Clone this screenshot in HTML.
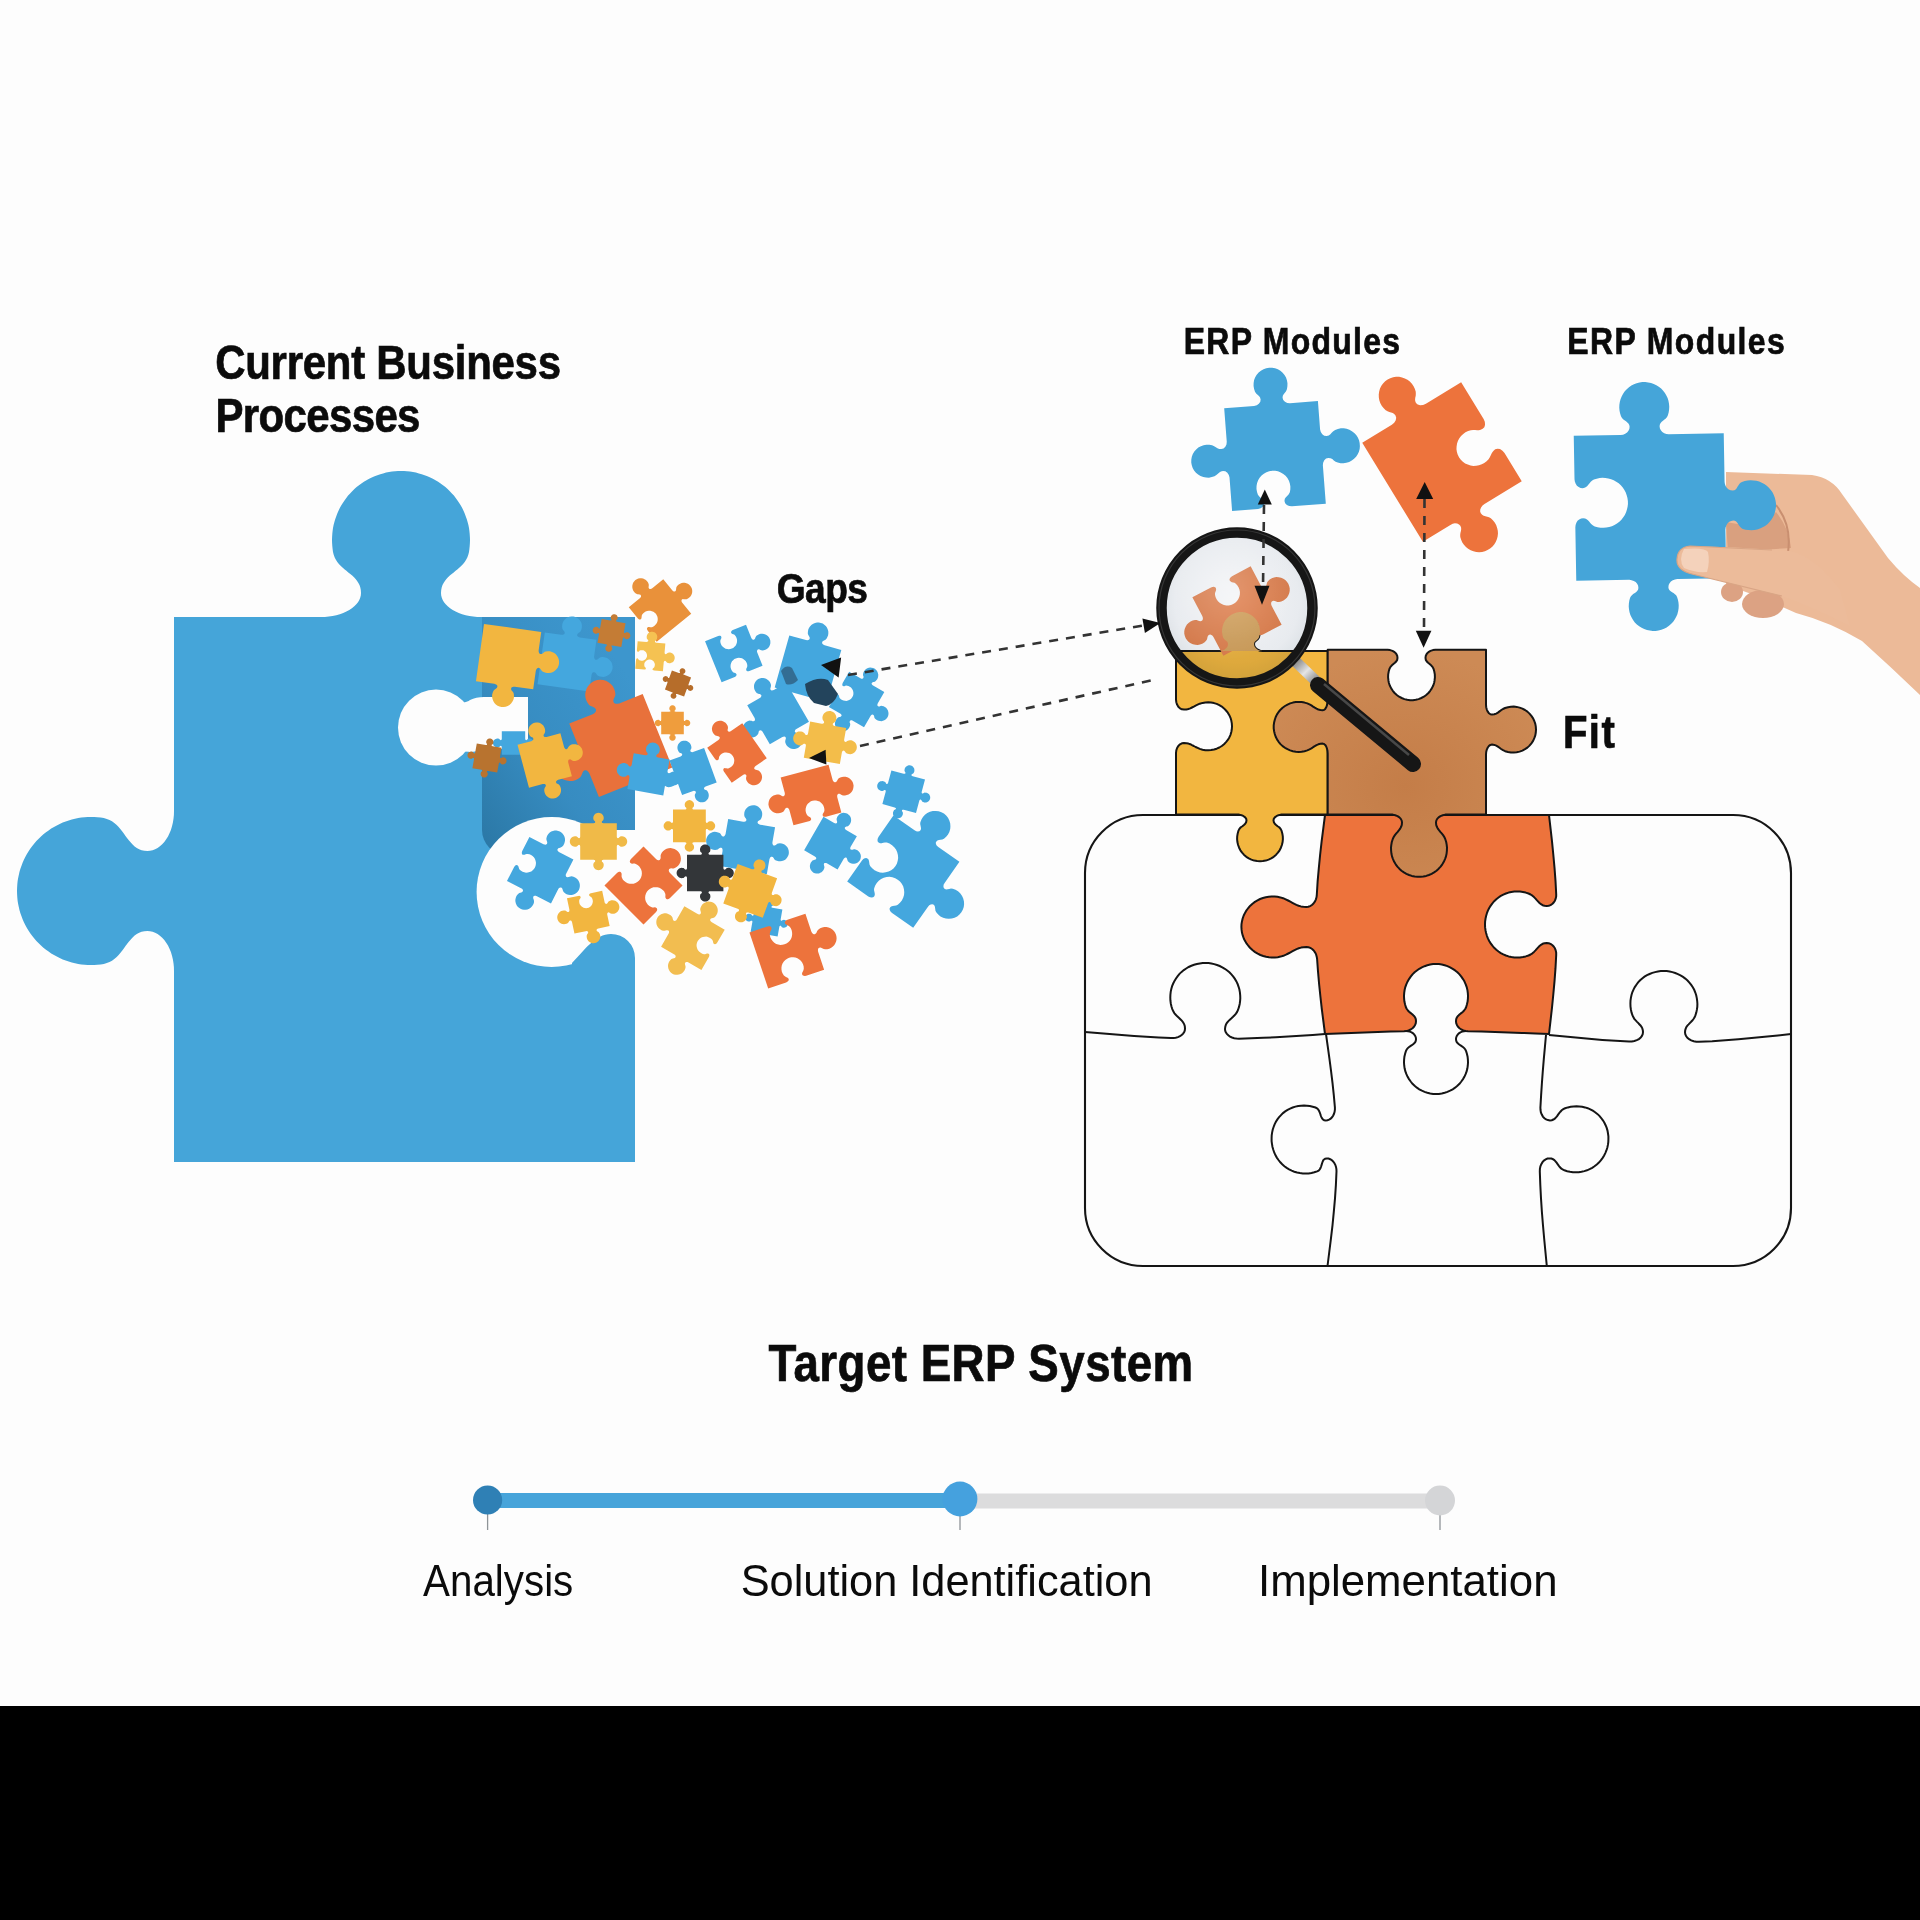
<!DOCTYPE html>
<html><head><meta charset="utf-8"><style>
html,body{margin:0;padding:0;background:#000;width:1920px;height:1920px;overflow:hidden;}
svg{display:block;}
</style></head><body>
<svg width="1920" height="1920" viewBox="0 0 1920 1920">
<defs>
<linearGradient id="dark" x1="0" y1="0.95" x2="0.8" y2="0.1">
  <stop offset="0" stop-color="#2b78a6"/><stop offset="0.45" stop-color="#378cc1"/><stop offset="1" stop-color="#3d96cd"/>
</linearGradient>
<radialGradient id="brown" cx="0.5" cy="0.6" r="0.6">
  <stop offset="0" stop-color="#c47d48"/><stop offset="1" stop-color="#cd8a55"/>
</radialGradient>
<radialGradient id="lens" cx="0.5" cy="0.45" r="0.55">
  <stop offset="0" stop-color="#f6f7f9"/><stop offset="0.75" stop-color="#eaedf1"/><stop offset="1" stop-color="#dce1e6"/>
</radialGradient>
<radialGradient id="lenshl" cx="0.42" cy="0.35" r="0.5">
  <stop offset="0" stop-color="#ffffff" stop-opacity="0.2"/><stop offset="1" stop-color="#ffffff" stop-opacity="0"/>
</radialGradient>
<clipPath id="lensclip"><circle cx="1237" cy="608" r="75.5"/></clipPath>
<linearGradient id="metal" x1="0" y1="0" x2="1" y2="1">
  <stop offset="0" stop-color="#777"/><stop offset="0.5" stop-color="#e5e5e5"/><stop offset="1" stop-color="#777"/>
</linearGradient>
</defs>
<rect x="0" y="0" width="1920" height="1706" fill="#fdfdfd"/>
<rect x="0" y="1706" width="1920" height="214" fill="#000"/>
<path d="M174 617L321 617L324.9 616.9L328.8 616.5L332.6 616L336.3 615.2L339.9 614.2L343.2 613L346.4 611.6L349.3 610L351.9 608.2L354.3 606.3L356.3 604.3L358 602.2L359.3 600L360.2 597.7L360.8 595.4L361 593L360.8 590.1L360.3 587.5L359.5 585.1L358.4 582.9L357.1 580.9L355.6 579L354 577.3L352.2 575.6L350.3 574L348.3 572.4L346.4 570.8L344.4 569.2L342.5 567.5L340.6 565.7L338.9 563.9L337.3 561.9L335.9 559.7L334.7 557.4L333.7 554.8L333 552L332.6 549L332.3 546L332.1 543L332 540L332.1 537L332.3 534L332.6 531L333 528L333.6 525.1L334.4 522.1L335.2 519.3L336.2 516.4L337.3 513.6L338.5 510.8L339.8 508.1L341.2 505.5L342.8 502.9L344.5 500.4L346.3 498L348.1 495.6L350.1 493.4L352.2 491.2L354.4 489.1L356.6 487.1L359 485.3L361.4 483.5L363.9 481.8L366.5 480.2L369.1 478.8L371.8 477.5L374.6 476.3L377.4 475.2L380.3 474.2L383.1 473.4L386.1 472.6L389 472L392 471.6L395 471.3L398 471.1L401 471L404 471.1L407 471.3L410 471.6L413 472L415.9 472.6L418.9 473.4L421.7 474.2L424.6 475.2L427.4 476.3L430.2 477.5L432.9 478.8L435.5 480.2L438.1 481.8L440.6 483.5L443 485.3L445.4 487.1L447.6 489.1L449.8 491.2L451.9 493.4L453.9 495.6L455.7 498L457.5 500.4L459.2 502.9L460.8 505.5L462.2 508.1L463.5 510.8L464.7 513.6L465.8 516.4L466.8 519.3L467.6 522.1L468.4 525.1L469 528L469.4 531L469.7 534L469.9 537L470 540L469.9 543L469.7 546L469.4 549L469 552L468.3 554.8L467.3 557.4L466.1 559.7L464.7 561.9L463.1 563.9L461.4 565.7L459.5 567.5L457.6 569.2L455.6 570.8L453.7 572.4L451.7 574L449.8 575.6L448 577.3L446.4 579L444.9 580.9L443.6 582.9L442.5 585.1L441.7 587.5L441.2 590.1L441 593L441.2 595.4L441.8 597.7L442.7 600L444 602.2L445.7 604.3L447.7 606.3L450.1 608.2L452.7 610L455.6 611.6L458.8 613L462.1 614.2L465.7 615.2L469.4 616L473.2 616.5L477.1 616.9L481 617L635 617L635 1162L174 1162L174 971L173.9 967.1L173.5 963.2L172.9 959.4L172 955.7L170.9 952.1L169.5 948.8L168 945.6L166.2 942.7L164.3 940.1L162.2 937.7L159.9 935.7L157.6 934L155.1 932.7L152.6 931.8L150 931.2L147.4 931L144.4 931.2L141.6 931.8L139.1 932.8L136.8 934.1L134.6 935.6L132.6 937.4L130.8 939.4L129 941.5L127.2 943.8L125.5 946.1L123.8 948.4L122.1 950.7L120.3 953L118.4 955.2L116.4 957.2L114.3 959.1L112 960.7L109.5 962.1L106.8 963.1L103.8 963.9L100.7 964.4L97.4 964.7L94.2 964.9L91 965L87.8 964.9L84.6 964.7L81.3 964.4L78.2 963.9L75 963.2L71.8 962.5L68.7 961.6L65.7 960.5L62.7 959.4L59.7 958.1L56.8 956.6L54 955.1L51.2 953.4L48.6 951.6L46 949.7L43.4 947.7L41 945.6L38.7 943.3L36.4 941L34.3 938.6L32.3 936L30.4 933.4L28.6 930.8L26.9 928L25.4 925.2L23.9 922.3L22.6 919.3L21.5 916.3L20.4 913.3L19.5 910.2L18.8 907L18.1 903.8L17.6 900.7L17.3 897.4L17.1 894.2L17 891L17.1 887.8L17.3 884.6L17.6 881.3L18.1 878.2L18.8 875L19.5 871.8L20.4 868.7L21.5 865.7L22.6 862.7L23.9 859.7L25.4 856.8L26.9 854L28.6 851.2L30.4 848.6L32.3 846L34.3 843.4L36.4 841L38.7 838.7L41 836.4L43.4 834.3L46 832.3L48.6 830.4L51.2 828.6L54 826.9L56.8 825.4L59.7 823.9L62.7 822.6L65.7 821.5L68.7 820.4L71.8 819.5L75 818.8L78.2 818.1L81.3 817.6L84.6 817.3L87.8 817.1L91 817L94.2 817.1L97.4 817.3L100.7 817.6L103.8 818.1L106.8 818.9L109.5 819.9L112 821.3L114.3 822.9L116.4 824.8L118.4 826.8L120.3 829L122.1 831.3L123.8 833.6L125.5 835.9L127.2 838.2L129 840.5L130.8 842.6L132.6 844.6L134.6 846.4L136.8 847.9L139.1 849.2L141.6 850.2L144.4 850.8L147.4 851L150 850.8L152.6 850.2L155.1 849.3L157.6 848L159.9 846.3L162.2 844.3L164.3 841.9L166.2 839.3L168 836.4L169.5 833.2L170.9 829.9L172 826.3L172.9 822.6L173.5 818.8L173.9 814.9L174 811L174 617Z" fill="#45a5d9"/>
<path d="M482 617H635V855H507A25 25 0 0 1 482 830Z" fill="url(#dark)"/>
<circle cx="436" cy="727.6" r="38" fill="#fdfdfd"/>
<path d="M440 704 Q466 704 470 700 Q476 697 484 697 L528 697 L528 749 L484 749 Q476 752 470 752 Q466 751 440 751Z" fill="#fdfdfd"/>
<circle cx="551.6" cy="892" r="75" fill="#fdfdfd"/>
<path d="M551 830H640V961H551Z" fill="#fdfdfd"/>
<path d="M572 963 C585 950 595 934 611 934 A24 24 0 0 1 635 958 L635 1000 L572 1000Z" fill="#45a5d9"/>
<path transform="translate(567.0 662.0) rotate(8)" d="M-26.1 -26.1L-9.4 -26.1L-8.2 -26.3L-7.2 -26.7L-6.5 -27.4L-6.3 -28.2L-6.5 -29.3L-7.1 -30.1L-7.9 -30.8L-8.7 -31.6L-9.3 -32.6L-9.8 -34.5L-9.9 -36.4L-9.7 -38.3L-9.1 -40.1L-8.1 -41.7L-6.9 -43.2L-5.4 -44.4L-3.7 -45.2L-1.9 -45.8L0 -46L1.9 -45.8L3.7 -45.2L5.4 -44.4L6.9 -43.2L8.1 -41.7L9.1 -40.1L9.7 -38.3L9.9 -36.4L9.8 -34.5L9.3 -32.6L8.7 -31.6L7.9 -30.8L7.1 -30.1L6.5 -29.3L6.3 -28.2L6.5 -27.4L7.2 -26.7L8.2 -26.3L9.4 -26.1L26.1 -26.1L26.1 -9.4L26.3 -8.2L26.7 -7.2L27.4 -6.5L28.2 -6.3L29.3 -6.5L30.1 -7.1L30.8 -7.9L31.6 -8.7L32.6 -9.3L34.5 -9.8L36.4 -9.9L38.3 -9.7L40.1 -9.1L41.7 -8.1L43.2 -6.9L44.4 -5.4L45.2 -3.7L45.8 -1.9L46 0L45.8 1.9L45.2 3.7L44.4 5.4L43.2 6.9L41.7 8.1L40.1 9.1L38.3 9.7L36.4 9.9L34.5 9.8L32.6 9.3L31.6 8.7L30.8 7.9L30.1 7.1L29.3 6.5L28.2 6.3L27.4 6.5L26.7 7.2L26.3 8.2L26.1 9.4L26.1 26.1L-26.1 26.1L-26.1 -26.1Z" fill="#44a7de"/>
<path transform="translate(508.6 656.6) rotate(8)" d="M-28.9 -28.9L28.9 -28.9L28.9 -10.4L29.1 -9.1L29.6 -8L30.3 -7.2L31.2 -6.9L32.4 -7.2L33.3 -7.9L34.1 -8.8L35 -9.7L36.1 -10.3L38.2 -10.8L40.3 -11L42.3 -10.7L44.3 -10L46.2 -9L47.8 -7.6L49.1 -6L50.1 -4.1L50.7 -2.1L50.9 0L50.7 2.1L50.1 4.1L49.1 6L47.8 7.6L46.2 9L44.3 10L42.3 10.7L40.3 11L38.2 10.8L36.1 10.3L35 9.7L34.1 8.8L33.3 7.9L32.4 7.2L31.2 6.9L30.3 7.2L29.6 8L29.1 9.1L28.9 10.4L28.9 28.9L10.4 28.9L9.1 29.1L8 29.6L7.2 30.3L6.9 31.2L7.2 32.4L7.9 33.3L8.8 34.1L9.7 35L10.3 36.1L10.8 38.2L11 40.3L10.7 42.3L10 44.3L9 46.2L7.6 47.8L6 49.1L4.1 50.1L2.1 50.7L0 50.9L-2.1 50.7L-4.1 50.1L-6 49.1L-7.6 47.8L-9 46.2L-10 44.3L-10.7 42.3L-11 40.3L-10.8 38.2L-10.3 36.1L-9.7 35L-8.8 34.1L-7.9 33.3L-7.2 32.4L-6.9 31.2L-7.2 30.3L-8 29.6L-9.1 29.1L-10.4 28.9L-28.9 28.9L-28.9 -28.9Z" fill="#f2b640"/>
<path transform="translate(611.5 633.0) rotate(10)" d="M-12.1 -12.1L-3.3 -12.1L-2.9 -12.2L-2.5 -12.3L-2.3 -12.6L-2.2 -12.9L-2.3 -13.2L-2.5 -13.5L-2.8 -13.8L-3 -14L-3.2 -14.4L-3.4 -15L-3.5 -15.7L-3.4 -16.4L-3.2 -17L-2.8 -17.6L-2.4 -18.1L-1.9 -18.5L-1.3 -18.8L-0.7 -19L0 -19L0.7 -19L1.3 -18.8L1.9 -18.5L2.4 -18.1L2.8 -17.6L3.2 -17L3.4 -16.4L3.5 -15.7L3.4 -15L3.2 -14.4L3 -14L2.8 -13.8L2.5 -13.5L2.3 -13.2L2.2 -12.9L2.3 -12.6L2.5 -12.3L2.9 -12.2L3.3 -12.1L12.1 -12.1L12.1 -3.3L12.2 -2.9L12.3 -2.5L12.6 -2.3L12.9 -2.2L13.2 -2.3L13.5 -2.5L13.8 -2.8L14 -3L14.4 -3.2L15 -3.4L15.7 -3.5L16.4 -3.4L17 -3.2L17.6 -2.8L18.1 -2.4L18.5 -1.9L18.8 -1.3L19 -0.7L19 0L19 0.7L18.8 1.3L18.5 1.9L18.1 2.4L17.6 2.8L17 3.2L16.4 3.4L15.7 3.5L15 3.4L14.4 3.2L14 3L13.8 2.8L13.5 2.5L13.2 2.3L12.9 2.2L12.6 2.3L12.3 2.5L12.2 2.9L12.1 3.3L12.1 12.1L3.3 12.1L2.9 12.2L2.5 12.3L2.3 12.6L2.2 12.9L2.3 13.2L2.5 13.5L2.8 13.8L3 14L3.2 14.4L3.4 15L3.5 15.7L3.4 16.4L3.2 17L2.8 17.6L2.4 18.1L1.9 18.5L1.3 18.8L0.7 19L0 19L-0.7 19L-1.3 18.8L-1.9 18.5L-2.4 18.1L-2.8 17.6L-3.2 17L-3.4 16.4L-3.5 15.7L-3.4 15L-3.2 14.4L-3 14L-2.8 13.8L-2.5 13.5L-2.3 13.2L-2.2 12.9L-2.3 12.6L-2.5 12.3L-2.9 12.2L-3.3 12.1L-12.1 12.1L-12.1 3.3L-12.2 2.9L-12.3 2.5L-12.6 2.3L-12.9 2.2L-13.2 2.3L-13.5 2.5L-13.8 2.8L-14 3L-14.4 3.2L-15 3.4L-15.7 3.5L-16.4 3.4L-17 3.2L-17.6 2.8L-18.1 2.4L-18.5 1.9L-18.8 1.3L-19 0.7L-19 0L-19 -0.7L-18.8 -1.3L-18.5 -1.9L-18.1 -2.4L-17.6 -2.8L-17 -3.2L-16.4 -3.4L-15.7 -3.5L-15 -3.4L-14.4 -3.2L-14 -3L-13.8 -2.8L-13.5 -2.5L-13.2 -2.3L-12.9 -2.2L-12.6 -2.3L-12.3 -2.5L-12.2 -2.9L-12.1 -3.3L-12.1 -12.1Z" fill="#c47c35"/>
<path transform="translate(660.0 610.5) rotate(-39)" d="M-22.2 -22.2L-8 -22.2L-7 -22.3L-6.1 -22.7L-5.5 -23.3L-5.3 -24L-5.5 -24.9L-6.1 -25.6L-6.7 -26.2L-7.4 -26.9L-7.9 -27.8L-8.3 -29.3L-8.4 -30.9L-8.2 -32.5L-7.7 -34.1L-6.9 -35.5L-5.9 -36.7L-4.6 -37.7L-3.2 -38.5L-1.6 -38.9L0 -39.1L1.6 -38.9L3.2 -38.5L4.6 -37.7L5.9 -36.7L6.9 -35.5L7.7 -34.1L8.2 -32.5L8.4 -30.9L8.3 -29.3L7.9 -27.8L7.4 -26.9L6.7 -26.2L6.1 -25.6L5.5 -24.9L5.3 -24L5.5 -23.3L6.1 -22.7L7 -22.3L8 -22.2L22.2 -22.2L22.2 -8L22.3 -7L22.7 -6.1L23.3 -5.5L24 -5.3L24.9 -5.5L25.6 -6.1L26.2 -6.7L26.9 -7.4L27.8 -7.9L29.3 -8.3L30.9 -8.4L32.5 -8.2L34.1 -7.7L35.5 -6.9L36.7 -5.9L37.7 -4.6L38.5 -3.2L38.9 -1.6L39.1 0L38.9 1.6L38.5 3.2L37.7 4.6L36.7 5.9L35.5 6.9L34.1 7.7L32.5 8.2L30.9 8.4L29.3 8.3L27.8 7.9L26.9 7.4L26.2 6.7L25.6 6.1L24.9 5.5L24 5.3L23.3 5.5L22.7 6.1L22.3 7L22.2 8L22.2 22.2L-22.2 22.2L-22.2 8L-22.1 7L-21.7 6.1L-21.1 5.5L-20.4 5.3L-19.5 5.5L-18.8 6.1L-18.2 6.7L-17.5 7.4L-16.7 7.9L-15.1 8.3L-13.5 8.4L-11.9 8.2L-10.3 7.7L-8.9 6.9L-7.7 5.9L-6.7 4.6L-5.9 3.2L-5.5 1.6L-5.3 0L-5.5 -1.6L-5.9 -3.2L-6.7 -4.6L-7.7 -5.9L-8.9 -6.9L-10.3 -7.7L-11.9 -8.2L-13.5 -8.4L-15.1 -8.3L-16.7 -7.9L-17.5 -7.4L-18.2 -6.7L-18.8 -6.1L-19.5 -5.5L-20.4 -5.3L-21.1 -5.5L-21.7 -6.1L-22.1 -7L-22.2 -8L-22.2 -22.2Z" fill="#e9913a"/>
<path transform="translate(650.3 656.2) rotate(5)" d="M-13.9 -13.9L-5 -13.9L-4.4 -14L-3.8 -14.3L-3.5 -14.6L-3.3 -15L-3.5 -15.6L-3.8 -16.1L-4.2 -16.4L-4.7 -16.9L-5 -17.4L-5.2 -18.4L-5.3 -19.4L-5.2 -20.4L-4.8 -21.4L-4.3 -22.3L-3.7 -23L-2.9 -23.7L-2 -24.1L-1 -24.4L0 -24.5L1 -24.4L2 -24.1L2.9 -23.7L3.7 -23L4.3 -22.3L4.8 -21.4L5.2 -20.4L5.3 -19.4L5.2 -18.4L5 -17.4L4.7 -16.9L4.2 -16.4L3.8 -16.1L3.5 -15.6L3.3 -15L3.5 -14.6L3.8 -14.3L4.4 -14L5 -13.9L13.9 -13.9L13.9 -5L14 -4.4L14.3 -3.8L14.6 -3.5L15 -3.3L15.6 -3.5L16.1 -3.8L16.4 -4.2L16.9 -4.7L17.4 -5L18.4 -5.2L19.4 -5.3L20.4 -5.2L21.4 -4.8L22.3 -4.3L23 -3.7L23.7 -2.9L24.1 -2L24.4 -1L24.5 0L24.4 1L24.1 2L23.7 2.9L23 3.7L22.3 4.3L21.4 4.8L20.4 5.2L19.4 5.3L18.4 5.2L17.4 5L16.9 4.7L16.4 4.2L16.1 3.8L15.6 3.5L15 3.3L14.6 3.5L14.3 3.8L14 4.4L13.9 5L13.9 13.9L5 13.9L4.4 13.8L3.8 13.6L3.5 13.2L3.3 12.8L3.5 12.2L3.8 11.8L4.2 11.4L4.7 11L5 10.4L5.2 9.5L5.3 8.4L5.2 7.4L4.8 6.5L4.3 5.6L3.7 4.8L2.9 4.2L2 3.7L1 3.4L0 3.3L-1 3.4L-2 3.7L-2.9 4.2L-3.7 4.8L-4.3 5.6L-4.8 6.5L-5.2 7.4L-5.3 8.4L-5.2 9.5L-5 10.4L-4.7 11L-4.2 11.4L-3.8 11.8L-3.5 12.2L-3.3 12.8L-3.5 13.2L-3.8 13.6L-4.4 13.8L-5 13.9L-13.9 13.9L-13.9 5L-13.8 4.4L-13.6 3.8L-13.2 3.5L-12.8 3.3L-12.2 3.5L-11.8 3.8L-11.4 4.2L-11 4.7L-10.4 5L-9.5 5.2L-8.4 5.3L-7.4 5.2L-6.5 4.8L-5.6 4.3L-4.8 3.7L-4.2 2.9L-3.7 2L-3.4 1L-3.3 0L-3.4 -1L-3.7 -2L-4.2 -2.9L-4.8 -3.7L-5.6 -4.3L-6.5 -4.8L-7.4 -5.2L-8.4 -5.3L-9.5 -5.2L-10.4 -5L-11 -4.7L-11.4 -4.2L-11.8 -3.8L-12.2 -3.5L-12.8 -3.3L-13.2 -3.5L-13.6 -3.8L-13.8 -4.4L-13.9 -5L-13.9 -13.9Z" fill="#f5c252"/>
<path transform="translate(678.0 683.5) rotate(20)" d="M-10.2 -10.2L-2.8 -10.2L-2.4 -10.3L-2.1 -10.4L-1.9 -10.6L-1.8 -10.8L-1.9 -11.1L-2.1 -11.4L-2.3 -11.6L-2.6 -11.8L-2.7 -12.1L-2.9 -12.7L-2.9 -13.2L-2.8 -13.8L-2.7 -14.3L-2.4 -14.8L-2 -15.2L-1.6 -15.6L-1.1 -15.8L-0.6 -16L0 -16L0.6 -16L1.1 -15.8L1.6 -15.6L2 -15.2L2.4 -14.8L2.7 -14.3L2.8 -13.8L2.9 -13.2L2.9 -12.7L2.7 -12.1L2.6 -11.8L2.3 -11.6L2.1 -11.4L1.9 -11.1L1.8 -10.8L1.9 -10.6L2.1 -10.4L2.4 -10.3L2.8 -10.2L10.2 -10.2L10.2 -2.8L10.3 -2.4L10.4 -2.1L10.6 -1.9L10.8 -1.8L11.1 -1.9L11.4 -2.1L11.6 -2.3L11.8 -2.6L12.1 -2.7L12.7 -2.9L13.2 -2.9L13.8 -2.8L14.3 -2.7L14.8 -2.4L15.2 -2L15.6 -1.6L15.8 -1.1L16 -0.6L16 0L16 0.6L15.8 1.1L15.6 1.6L15.2 2L14.8 2.4L14.3 2.7L13.8 2.8L13.2 2.9L12.7 2.9L12.1 2.7L11.8 2.6L11.6 2.3L11.4 2.1L11.1 1.9L10.8 1.8L10.6 1.9L10.4 2.1L10.3 2.4L10.2 2.8L10.2 10.2L2.8 10.2L2.4 10.3L2.1 10.4L1.9 10.6L1.8 10.8L1.9 11.1L2.1 11.4L2.3 11.6L2.6 11.8L2.7 12.1L2.9 12.7L2.9 13.2L2.8 13.8L2.7 14.3L2.4 14.8L2 15.2L1.6 15.6L1.1 15.8L0.6 16L0 16L-0.6 16L-1.1 15.8L-1.6 15.6L-2 15.2L-2.4 14.8L-2.7 14.3L-2.8 13.8L-2.9 13.2L-2.9 12.7L-2.7 12.1L-2.6 11.8L-2.3 11.6L-2.1 11.4L-1.9 11.1L-1.8 10.8L-1.9 10.6L-2.1 10.4L-2.4 10.3L-2.8 10.2L-10.2 10.2L-10.2 2.8L-10.3 2.4L-10.4 2.1L-10.6 1.9L-10.8 1.8L-11.1 1.9L-11.4 2.1L-11.6 2.3L-11.8 2.6L-12.1 2.7L-12.7 2.9L-13.2 2.9L-13.8 2.8L-14.3 2.7L-14.8 2.4L-15.2 2L-15.6 1.6L-15.8 1.1L-16 0.6L-16 0L-16 -0.6L-15.8 -1.1L-15.6 -1.6L-15.2 -2L-14.8 -2.4L-14.3 -2.7L-13.8 -2.8L-13.2 -2.9L-12.7 -2.9L-12.1 -2.7L-11.8 -2.6L-11.6 -2.3L-11.4 -2.1L-11.1 -1.9L-10.8 -1.8L-10.6 -1.9L-10.4 -2.1L-10.3 -2.4L-10.2 -2.8L-10.2 -10.2Z" fill="#b66d2a"/>
<path transform="translate(513.5 743.0) rotate(0)" d="M-11.7 -11.7L11.7 -11.7L11.7 -4.2L11.8 -3.7L12 -3.2L12.3 -2.9L12.6 -2.8L13.1 -2.9L13.5 -3.2L13.8 -3.5L14.1 -3.9L14.6 -4.2L15.4 -4.4L16.3 -4.4L17.1 -4.3L17.9 -4.1L18.7 -3.6L19.3 -3.1L19.9 -2.4L20.2 -1.7L20.5 -0.8L20.6 0L20.5 0.8L20.2 1.7L19.9 2.4L19.3 3.1L18.7 3.6L17.9 4.1L17.1 4.3L16.3 4.4L15.4 4.4L14.6 4.2L14.1 3.9L13.8 3.5L13.5 3.2L13.1 2.9L12.6 2.8L12.3 2.9L12 3.2L11.8 3.7L11.7 4.2L11.7 11.7L-11.7 11.7L-11.7 4.2L-11.8 3.7L-12 3.2L-12.3 2.9L-12.6 2.8L-13.1 2.9L-13.5 3.2L-13.8 3.5L-14.1 3.9L-14.6 4.2L-15.4 4.4L-16.3 4.4L-17.1 4.3L-17.9 4.1L-18.7 3.6L-19.3 3.1L-19.9 2.4L-20.2 1.7L-20.5 0.8L-20.6 0L-20.5 -0.8L-20.2 -1.7L-19.9 -2.4L-19.3 -3.1L-18.7 -3.6L-17.9 -4.1L-17.1 -4.3L-16.3 -4.4L-15.4 -4.4L-14.6 -4.2L-14.1 -3.9L-13.8 -3.5L-13.5 -3.2L-13.1 -2.9L-12.6 -2.8L-12.3 -2.9L-12 -3.2L-11.8 -3.7L-11.7 -4.2L-11.7 -11.7Z" fill="#44a7de"/>
<path transform="translate(487.0 758.0) rotate(10)" d="M-12.6 -12.6L-3.4 -12.6L-3 -12.7L-2.6 -12.8L-2.4 -13.1L-2.3 -13.4L-2.4 -13.8L-2.6 -14.1L-2.9 -14.3L-3.2 -14.6L-3.4 -15L-3.6 -15.6L-3.6 -16.3L-3.5 -17L-3.3 -17.7L-2.9 -18.3L-2.5 -18.8L-2 -19.2L-1.3 -19.5L-0.7 -19.7L0 -19.8L0.7 -19.7L1.3 -19.5L2 -19.2L2.5 -18.8L2.9 -18.3L3.3 -17.7L3.5 -17L3.6 -16.3L3.6 -15.6L3.4 -15L3.2 -14.6L2.9 -14.3L2.6 -14.1L2.4 -13.8L2.3 -13.4L2.4 -13.1L2.6 -12.8L3 -12.7L3.4 -12.6L12.6 -12.6L12.6 -3.4L12.7 -3L12.8 -2.6L13.1 -2.4L13.4 -2.3L13.8 -2.4L14.1 -2.6L14.3 -2.9L14.6 -3.2L15 -3.4L15.6 -3.6L16.3 -3.6L17 -3.5L17.7 -3.3L18.3 -2.9L18.8 -2.5L19.2 -2L19.5 -1.3L19.7 -0.7L19.8 0L19.7 0.7L19.5 1.3L19.2 2L18.8 2.5L18.3 2.9L17.7 3.3L17 3.5L16.3 3.6L15.6 3.6L15 3.4L14.6 3.2L14.3 2.9L14.1 2.6L13.8 2.4L13.4 2.3L13.1 2.4L12.8 2.6L12.7 3L12.6 3.4L12.6 12.6L3.4 12.6L3 12.7L2.6 12.8L2.4 13.1L2.3 13.4L2.4 13.8L2.6 14.1L2.9 14.3L3.2 14.6L3.4 15L3.6 15.6L3.6 16.3L3.5 17L3.3 17.7L2.9 18.3L2.5 18.8L2 19.2L1.3 19.5L0.7 19.7L0 19.8L-0.7 19.7L-1.3 19.5L-2 19.2L-2.5 18.8L-2.9 18.3L-3.3 17.7L-3.5 17L-3.6 16.3L-3.6 15.6L-3.4 15L-3.2 14.6L-2.9 14.3L-2.6 14.1L-2.4 13.8L-2.3 13.4L-2.4 13.1L-2.6 12.8L-3 12.7L-3.4 12.6L-12.6 12.6L-12.6 3.4L-12.7 3L-12.8 2.6L-13.1 2.4L-13.4 2.3L-13.8 2.4L-14.1 2.6L-14.3 2.9L-14.6 3.2L-15 3.4L-15.6 3.6L-16.3 3.6L-17 3.5L-17.7 3.3L-18.3 2.9L-18.8 2.5L-19.2 2L-19.5 1.3L-19.7 0.7L-19.8 0L-19.7 -0.7L-19.5 -1.3L-19.2 -2L-18.8 -2.5L-18.3 -2.9L-17.7 -3.3L-17 -3.5L-16.3 -3.6L-15.6 -3.6L-15 -3.4L-14.6 -3.2L-14.3 -2.9L-14.1 -2.6L-13.8 -2.4L-13.4 -2.3L-13.1 -2.4L-12.8 -2.6L-12.7 -3L-12.6 -3.4L-12.6 -12.6Z" fill="#b8732f"/>
<path transform="translate(620.8 745.5) rotate(-22)" d="M-39.6 -39.6L-14.3 -39.6L-12.4 -39.9L-10.9 -40.6L-9.9 -41.6L-9.5 -42.8L-9.9 -44.5L-10.8 -45.7L-12 -46.8L-13.2 -48L-14.2 -49.5L-14.9 -52.3L-15.1 -55.2L-14.7 -58.1L-13.8 -60.8L-12.3 -63.3L-10.5 -65.5L-8.2 -67.3L-5.6 -68.7L-2.9 -69.5L0 -69.8L2.9 -69.5L5.6 -68.7L8.2 -67.3L10.5 -65.5L12.3 -63.3L13.8 -60.8L14.7 -58.1L15.1 -55.2L14.9 -52.3L14.2 -49.5L13.2 -48L12 -46.8L10.8 -45.7L9.9 -44.5L9.5 -42.8L9.9 -41.6L10.9 -40.6L12.4 -39.9L14.3 -39.6L39.6 -39.6L39.6 39.6L-39.6 39.6L-39.6 14.3L-39.9 12.4L-40.6 10.9L-41.6 9.9L-42.8 9.5L-44.5 9.9L-45.7 10.8L-46.8 12L-48 13.2L-49.5 14.2L-52.3 14.9L-55.2 15.1L-58.1 14.7L-60.8 13.8L-63.3 12.3L-65.5 10.5L-67.3 8.2L-68.7 5.6L-69.5 2.9L-69.8 0L-69.5 -2.9L-68.7 -5.6L-67.3 -8.2L-65.5 -10.5L-63.3 -12.3L-60.8 -13.8L-58.1 -14.7L-55.2 -15.1L-52.3 -14.9L-49.5 -14.2L-48 -13.2L-46.8 -12L-45.7 -10.8L-44.5 -9.9L-42.8 -9.5L-41.6 -9.9L-40.6 -10.9L-39.9 -12.4L-39.6 -14.3L-39.6 -39.6Z" fill="#e8713b"/>
<path transform="translate(544.7 760.5) rotate(-15)" d="M-22.2 -22.2L-8 -22.2L-7 -22.4L-6.1 -22.8L-5.5 -23.3L-5.3 -24L-5.5 -24.9L-6.1 -25.6L-6.8 -26.2L-7.4 -26.9L-7.9 -27.8L-8.3 -29.4L-8.4 -31L-8.2 -32.6L-7.7 -34.1L-6.9 -35.5L-5.9 -36.8L-4.6 -37.8L-3.2 -38.5L-1.6 -39L0 -39.1L1.6 -39L3.2 -38.5L4.6 -37.8L5.9 -36.8L6.9 -35.5L7.7 -34.1L8.2 -32.6L8.4 -31L8.3 -29.4L7.9 -27.8L7.4 -26.9L6.8 -26.2L6.1 -25.6L5.5 -24.9L5.3 -24L5.5 -23.3L6.1 -22.8L7 -22.4L8 -22.2L22.2 -22.2L22.2 -8L22.4 -7L22.8 -6.1L23.3 -5.5L24 -5.3L24.9 -5.5L25.6 -6.1L26.2 -6.8L26.9 -7.4L27.8 -7.9L29.4 -8.3L31 -8.4L32.6 -8.2L34.1 -7.7L35.5 -6.9L36.8 -5.9L37.8 -4.6L38.5 -3.2L39 -1.6L39.1 0L39 1.6L38.5 3.2L37.8 4.6L36.8 5.9L35.5 6.9L34.1 7.7L32.6 8.2L31 8.4L29.4 8.3L27.8 7.9L26.9 7.4L26.2 6.8L25.6 6.1L24.9 5.5L24 5.3L23.3 5.5L22.8 6.1L22.4 7L22.2 8L22.2 22.2L8 22.2L7 22.4L6.1 22.8L5.5 23.3L5.3 24L5.5 24.9L6.1 25.6L6.8 26.2L7.4 26.9L7.9 27.8L8.3 29.4L8.4 31L8.2 32.6L7.7 34.1L6.9 35.5L5.9 36.8L4.6 37.8L3.2 38.5L1.6 39L0 39.1L-1.6 39L-3.2 38.5L-4.6 37.8L-5.9 36.8L-6.9 35.5L-7.7 34.1L-8.2 32.6L-8.4 31L-8.3 29.4L-7.9 27.8L-7.4 26.9L-6.8 26.2L-6.1 25.6L-5.5 24.9L-5.3 24L-5.5 23.3L-6.1 22.8L-7 22.4L-8 22.2L-22.2 22.2L-22.2 -22.2Z" fill="#f2b640"/>
<path transform="translate(672.5 723.0) rotate(0)" d="M-11.3 -11.3L-3.1 -11.3L-2.7 -11.4L-2.3 -11.5L-2.1 -11.7L-2 -12L-2.1 -12.3L-2.3 -12.6L-2.6 -12.8L-2.8 -13.1L-3 -13.4L-3.2 -14L-3.2 -14.6L-3.1 -15.3L-2.9 -15.8L-2.6 -16.4L-2.2 -16.8L-1.8 -17.2L-1.2 -17.5L-0.6 -17.7L0 -17.8L0.6 -17.7L1.2 -17.5L1.8 -17.2L2.2 -16.8L2.6 -16.4L2.9 -15.8L3.1 -15.3L3.2 -14.6L3.2 -14L3 -13.4L2.8 -13.1L2.6 -12.8L2.3 -12.6L2.1 -12.3L2 -12L2.1 -11.7L2.3 -11.5L2.7 -11.4L3.1 -11.3L11.3 -11.3L11.3 -3.1L11.4 -2.7L11.5 -2.3L11.7 -2.1L12 -2L12.3 -2.1L12.6 -2.3L12.8 -2.6L13.1 -2.8L13.4 -3L14 -3.2L14.6 -3.2L15.3 -3.1L15.8 -2.9L16.4 -2.6L16.8 -2.2L17.2 -1.8L17.5 -1.2L17.7 -0.6L17.8 0L17.7 0.6L17.5 1.2L17.2 1.8L16.8 2.2L16.4 2.6L15.8 2.9L15.3 3.1L14.6 3.2L14 3.2L13.4 3L13.1 2.8L12.8 2.6L12.6 2.3L12.3 2.1L12 2L11.7 2.1L11.5 2.3L11.4 2.7L11.3 3.1L11.3 11.3L3.1 11.3L2.7 11.4L2.3 11.5L2.1 11.7L2 12L2.1 12.3L2.3 12.6L2.6 12.8L2.8 13.1L3 13.4L3.2 14L3.2 14.6L3.1 15.3L2.9 15.8L2.6 16.4L2.2 16.8L1.8 17.2L1.2 17.5L0.6 17.7L0 17.8L-0.6 17.7L-1.2 17.5L-1.8 17.2L-2.2 16.8L-2.6 16.4L-2.9 15.8L-3.1 15.3L-3.2 14.6L-3.2 14L-3 13.4L-2.8 13.1L-2.6 12.8L-2.3 12.6L-2.1 12.3L-2 12L-2.1 11.7L-2.3 11.5L-2.7 11.4L-3.1 11.3L-11.3 11.3L-11.3 3.1L-11.4 2.7L-11.5 2.3L-11.7 2.1L-12 2L-12.3 2.1L-12.6 2.3L-12.8 2.6L-13.1 2.8L-13.4 3L-14 3.2L-14.6 3.2L-15.3 3.1L-15.8 2.9L-16.4 2.6L-16.8 2.2L-17.2 1.8L-17.5 1.2L-17.7 0.6L-17.8 0L-17.7 -0.6L-17.5 -1.2L-17.2 -1.8L-16.8 -2.2L-16.4 -2.6L-15.8 -2.9L-15.3 -3.1L-14.6 -3.2L-14 -3.2L-13.4 -3L-13.1 -2.8L-12.8 -2.6L-12.6 -2.3L-12.3 -2.1L-12 -2L-11.7 -2.1L-11.5 -2.3L-11.4 -2.7L-11.3 -3.1L-11.3 -11.3Z" fill="#ef9d3d"/>
<path transform="translate(648.5 774.3) rotate(10)" d="M-18.2 -18.2L-6.6 -18.2L-5.7 -18.3L-5 -18.7L-4.5 -19.1L-4.4 -19.7L-4.5 -20.5L-5 -21L-5.5 -21.5L-6.1 -22.1L-6.5 -22.8L-6.8 -24.1L-6.9 -25.4L-6.8 -26.7L-6.3 -28L-5.7 -29.1L-4.8 -30.1L-3.8 -31L-2.6 -31.6L-1.3 -32L0 -32.1L1.3 -32L2.6 -31.6L3.8 -31L4.8 -30.1L5.7 -29.1L6.3 -28L6.8 -26.7L6.9 -25.4L6.8 -24.1L6.5 -22.8L6.1 -22.1L5.5 -21.5L5 -21L4.5 -20.5L4.4 -19.7L4.5 -19.1L5 -18.7L5.7 -18.3L6.6 -18.2L18.2 -18.2L18.2 -6.6L18.3 -5.7L18.7 -5L19.1 -4.5L19.7 -4.4L20.5 -4.5L21 -5L21.5 -5.5L22.1 -6.1L22.8 -6.5L24.1 -6.8L25.4 -6.9L26.7 -6.8L28 -6.3L29.1 -5.7L30.1 -4.8L31 -3.8L31.6 -2.6L32 -1.3L32.1 0L32 1.3L31.6 2.6L31 3.8L30.1 4.8L29.1 5.7L28 6.3L26.7 6.8L25.4 6.9L24.1 6.8L22.8 6.5L22.1 6.1L21.5 5.5L21 5L20.5 4.5L19.7 4.4L19.1 4.5L18.7 5L18.3 5.7L18.2 6.6L18.2 18.2L-18.2 18.2L-18.2 6.6L-18.3 5.7L-18.7 5L-19.1 4.5L-19.7 4.4L-20.5 4.5L-21 5L-21.5 5.5L-22.1 6.1L-22.8 6.5L-24.1 6.8L-25.4 6.9L-26.7 6.8L-28 6.3L-29.1 5.7L-30.1 4.8L-31 3.8L-31.6 2.6L-32 1.3L-32.1 0L-32 -1.3L-31.6 -2.6L-31 -3.8L-30.1 -4.8L-29.1 -5.7L-28 -6.3L-26.7 -6.8L-25.4 -6.9L-24.1 -6.8L-22.8 -6.5L-22.1 -6.1L-21.5 -5.5L-21 -5L-20.5 -4.5L-19.7 -4.4L-19.1 -4.5L-18.7 -5L-18.3 -5.7L-18.2 -6.6L-18.2 -18.2Z" fill="#44a7de"/>
<path transform="translate(693.1 771.5) rotate(-20)" d="M-18.4 -18.4L-6.6 -18.4L-5.8 -18.5L-5.1 -18.8L-4.6 -19.3L-4.4 -19.9L-4.6 -20.7L-5 -21.2L-5.6 -21.7L-6.2 -22.3L-6.6 -23L-6.9 -24.3L-7 -25.7L-6.8 -27L-6.4 -28.3L-5.7 -29.4L-4.9 -30.5L-3.8 -31.3L-2.6 -31.9L-1.3 -32.3L0 -32.4L1.3 -32.3L2.6 -31.9L3.8 -31.3L4.9 -30.5L5.7 -29.4L6.4 -28.3L6.8 -27L7 -25.7L6.9 -24.3L6.6 -23L6.2 -22.3L5.6 -21.7L5 -21.2L4.6 -20.7L4.4 -19.9L4.6 -19.3L5.1 -18.8L5.8 -18.5L6.6 -18.4L18.4 -18.4L18.4 18.4L6.6 18.4L5.8 18.5L5.1 18.8L4.6 19.3L4.4 19.9L4.6 20.7L5 21.2L5.6 21.7L6.2 22.3L6.6 23L6.9 24.3L7 25.7L6.8 27L6.4 28.3L5.7 29.4L4.9 30.5L3.8 31.3L2.6 31.9L1.3 32.3L0 32.4L-1.3 32.3L-2.6 31.9L-3.8 31.3L-4.9 30.5L-5.7 29.4L-6.4 28.3L-6.8 27L-7 25.7L-6.9 24.3L-6.6 23L-6.2 22.3L-5.6 21.7L-5 21.2L-4.6 20.7L-4.4 19.9L-4.6 19.3L-5.1 18.8L-5.8 18.5L-6.6 18.4L-18.4 18.4L-18.4 6.6L-18.5 5.8L-18.8 5.1L-19.3 4.6L-19.9 4.4L-20.7 4.6L-21.2 5L-21.7 5.6L-22.3 6.2L-23 6.6L-24.3 6.9L-25.7 7L-27 6.8L-28.3 6.4L-29.4 5.7L-30.5 4.9L-31.3 3.8L-31.9 2.6L-32.3 1.3L-32.4 0L-32.3 -1.3L-31.9 -2.6L-31.3 -3.8L-30.5 -4.9L-29.4 -5.7L-28.3 -6.4L-27 -6.8L-25.7 -7L-24.3 -6.9L-23 -6.6L-22.3 -6.2L-21.7 -5.6L-21.2 -5L-20.7 -4.6L-19.9 -4.4L-19.3 -4.6L-18.8 -5.1L-18.5 -5.8L-18.4 -6.6L-18.4 -18.4Z" fill="#44a7de"/>
<path transform="translate(733.8 653.5) rotate(-22)" d="M-22.1 -22.1L-7.9 -22.1L-6.9 -21.9L-6.1 -21.5L-5.5 -21L-5.3 -20.3L-5.5 -19.4L-6 -18.7L-6.7 -18.1L-7.4 -17.4L-7.9 -16.5L-8.3 -15L-8.4 -13.4L-8.2 -11.8L-7.7 -10.3L-6.9 -8.9L-5.8 -7.6L-4.6 -6.6L-3.1 -5.9L-1.6 -5.4L0 -5.3L1.6 -5.4L3.1 -5.9L4.6 -6.6L5.8 -7.6L6.9 -8.9L7.7 -10.3L8.2 -11.8L8.4 -13.4L8.3 -15L7.9 -16.5L7.4 -17.4L6.7 -18.1L6 -18.7L5.5 -19.4L5.3 -20.3L5.5 -21L6.1 -21.5L6.9 -21.9L7.9 -22.1L22.1 -22.1L22.1 -7.9L22.2 -6.9L22.6 -6.1L23.2 -5.5L23.8 -5.3L24.8 -5.5L25.4 -6L26 -6.7L26.7 -7.4L27.6 -7.9L29.1 -8.3L30.7 -8.4L32.3 -8.2L33.9 -7.7L35.3 -6.9L36.5 -5.8L37.5 -4.6L38.2 -3.1L38.7 -1.6L38.8 0L38.7 1.6L38.2 3.1L37.5 4.6L36.5 5.8L35.3 6.9L33.9 7.7L32.3 8.2L30.7 8.4L29.1 8.3L27.6 7.9L26.7 7.4L26 6.7L25.4 6L24.8 5.5L23.8 5.3L23.2 5.5L22.6 6.1L22.2 6.9L22.1 7.9L22.1 22.1L7.9 22.1L6.9 21.9L6.1 21.5L5.5 21L5.3 20.3L5.5 19.4L6 18.7L6.7 18.1L7.4 17.4L7.9 16.5L8.3 15L8.4 13.4L8.2 11.8L7.7 10.3L6.9 8.9L5.8 7.6L4.6 6.6L3.1 5.9L1.6 5.4L0 5.3L-1.6 5.4L-3.1 5.9L-4.6 6.6L-5.8 7.6L-6.9 8.9L-7.7 10.3L-8.2 11.8L-8.4 13.4L-8.3 15L-7.9 16.5L-7.4 17.4L-6.7 18.1L-6 18.7L-5.5 19.4L-5.3 20.3L-5.5 21L-6.1 21.5L-6.9 21.9L-7.9 22.1L-22.1 22.1L-22.1 -22.1Z" fill="#44a7de"/>
<path transform="translate(808.0 668.7) rotate(15.7)" d="M-27 -27L-9.7 -27L-8.5 -27.2L-7.4 -27.7L-6.7 -28.4L-6.5 -29.2L-6.7 -30.3L-7.4 -31.2L-8.2 -31.9L-9 -32.7L-9.7 -33.8L-10.1 -35.7L-10.3 -37.7L-10 -39.6L-9.4 -41.5L-8.4 -43.2L-7.1 -44.7L-5.6 -45.9L-3.8 -46.8L-2 -47.4L0 -47.6L2 -47.4L3.8 -46.8L5.6 -45.9L7.1 -44.7L8.4 -43.2L9.4 -41.5L10 -39.6L10.3 -37.7L10.1 -35.7L9.7 -33.8L9 -32.7L8.2 -31.9L7.4 -31.2L6.7 -30.3L6.5 -29.2L6.7 -28.4L7.4 -27.7L8.5 -27.2L9.7 -27L27 -27L27 27L-27 27L-27 -27Z" fill="#44a7de"/>
<path transform="translate(778.1 713.5) rotate(-30)" d="M-22.6 -22.6L-8.1 -22.6L-7.1 -22.7L-6.2 -23.1L-5.6 -23.7L-5.4 -24.4L-5.6 -25.3L-6.2 -26L-6.9 -26.6L-7.5 -27.3L-8.1 -28.2L-8.5 -29.8L-8.6 -31.4L-8.4 -33.1L-7.8 -34.6L-7 -36.1L-6 -37.3L-4.7 -38.3L-3.2 -39.1L-1.6 -39.6L0 -39.7L1.6 -39.6L3.2 -39.1L4.7 -38.3L6 -37.3L7 -36.1L7.8 -34.6L8.4 -33.1L8.6 -31.4L8.5 -29.8L8.1 -28.2L7.5 -27.3L6.9 -26.6L6.2 -26L5.6 -25.3L5.4 -24.4L5.6 -23.7L6.2 -23.1L7.1 -22.7L8.1 -22.6L22.6 -22.6L22.6 22.6L8.1 22.6L7.1 22.7L6.2 23.1L5.6 23.7L5.4 24.4L5.6 25.3L6.2 26L6.9 26.6L7.5 27.3L8.1 28.2L8.5 29.8L8.6 31.4L8.4 33.1L7.8 34.6L7 36.1L6 37.3L4.7 38.3L3.2 39.1L1.6 39.6L0 39.7L-1.6 39.6L-3.2 39.1L-4.7 38.3L-6 37.3L-7 36.1L-7.8 34.6L-8.4 33.1L-8.6 31.4L-8.5 29.8L-8.1 28.2L-7.5 27.3L-6.9 26.6L-6.2 26L-5.6 25.3L-5.4 24.4L-5.6 23.7L-6.2 23.1L-7.1 22.7L-8.1 22.6L-22.6 22.6L-22.6 8.1L-22.7 7.1L-23.1 6.2L-23.7 5.6L-24.4 5.4L-25.3 5.6L-26 6.2L-26.6 6.9L-27.3 7.5L-28.2 8.1L-29.8 8.5L-31.4 8.6L-33.1 8.4L-34.6 7.8L-36.1 7L-37.3 6L-38.3 4.7L-39.1 3.2L-39.6 1.6L-39.7 0L-39.6 -1.6L-39.1 -3.2L-38.3 -4.7L-37.3 -6L-36.1 -7L-34.6 -7.8L-33.1 -8.4L-31.4 -8.6L-29.8 -8.5L-28.2 -8.1L-27.3 -7.5L-26.6 -6.9L-26 -6.2L-25.3 -5.6L-24.4 -5.4L-23.7 -5.6L-23.1 -6.2L-22.7 -7.1L-22.6 -8.1L-22.6 -22.6Z" fill="#44a7de"/>
<path transform="translate(856.6 699.5) rotate(30)" d="M-20.3 -20.3L-7.3 -20.3L-6.4 -20.4L-5.6 -20.7L-5 -21.3L-4.9 -21.9L-5.1 -22.7L-5.5 -23.4L-6.2 -23.9L-6.8 -24.5L-7.2 -25.3L-7.6 -26.8L-7.7 -28.2L-7.5 -29.7L-7 -31.1L-6.3 -32.4L-5.3 -33.5L-4.2 -34.4L-2.9 -35.1L-1.5 -35.5L0 -35.7L1.5 -35.5L2.9 -35.1L4.2 -34.4L5.3 -33.5L6.3 -32.4L7 -31.1L7.5 -29.7L7.7 -28.2L7.6 -26.8L7.2 -25.3L6.8 -24.5L6.2 -23.9L5.5 -23.4L5.1 -22.7L4.9 -21.9L5 -21.3L5.6 -20.7L6.4 -20.4L7.3 -20.3L20.3 -20.3L20.3 -7.3L20.4 -6.4L20.7 -5.6L21.3 -5L21.9 -4.9L22.7 -5.1L23.4 -5.5L23.9 -6.2L24.5 -6.8L25.3 -7.2L26.8 -7.6L28.2 -7.7L29.7 -7.5L31.1 -7L32.4 -6.3L33.5 -5.3L34.4 -4.2L35.1 -2.9L35.5 -1.5L35.7 0L35.5 1.5L35.1 2.9L34.4 4.2L33.5 5.3L32.4 6.3L31.1 7L29.7 7.5L28.2 7.7L26.8 7.6L25.3 7.2L24.5 6.8L23.9 6.2L23.4 5.5L22.7 5.1L21.9 4.9L21.3 5L20.7 5.6L20.4 6.4L20.3 7.3L20.3 20.3L7.3 20.3L6.4 20.4L5.6 20.7L5 21.3L4.9 21.9L5.1 22.7L5.5 23.4L6.2 23.9L6.8 24.5L7.2 25.3L7.6 26.8L7.7 28.2L7.5 29.7L7 31.1L6.3 32.4L5.3 33.5L4.2 34.4L2.9 35.1L1.5 35.5L0 35.7L-1.5 35.5L-2.9 35.1L-4.2 34.4L-5.3 33.5L-6.3 32.4L-7 31.1L-7.5 29.7L-7.7 28.2L-7.6 26.8L-7.2 25.3L-6.8 24.5L-6.2 23.9L-5.5 23.4L-5.1 22.7L-4.9 21.9L-5 21.3L-5.6 20.7L-6.4 20.4L-7.3 20.3L-20.3 20.3L-20.3 7.3L-20.1 6.4L-19.8 5.6L-19.3 5L-18.6 4.9L-17.8 5.1L-17.2 5.5L-16.6 6.2L-16 6.8L-15.2 7.2L-13.8 7.6L-12.3 7.7L-10.8 7.5L-9.4 7L-8.1 6.3L-7 5.3L-6.1 4.2L-5.4 2.9L-5 1.5L-4.9 0L-5 -1.5L-5.4 -2.9L-6.1 -4.2L-7 -5.3L-8.1 -6.3L-9.4 -7L-10.8 -7.5L-12.3 -7.7L-13.8 -7.6L-15.2 -7.2L-16 -6.8L-16.6 -6.2L-17.2 -5.5L-17.8 -5.1L-18.6 -4.9L-19.3 -5L-19.8 -5.6L-20.1 -6.4L-20.3 -7.3L-20.3 -20.3Z" fill="#44a7de"/>
<path transform="translate(825.0 742.8) rotate(10)" d="M-18.3 -18.3L-6.6 -18.3L-5.8 -18.4L-5 -18.7L-4.6 -19.2L-4.4 -19.8L-4.6 -20.6L-5 -21.1L-5.6 -21.6L-6.1 -22.2L-6.5 -22.9L-6.9 -24.2L-7 -25.5L-6.8 -26.8L-6.4 -28.1L-5.7 -29.3L-4.8 -30.3L-3.8 -31.1L-2.6 -31.7L-1.3 -32.1L0 -32.2L1.3 -32.1L2.6 -31.7L3.8 -31.1L4.8 -30.3L5.7 -29.3L6.4 -28.1L6.8 -26.8L7 -25.5L6.9 -24.2L6.5 -22.9L6.1 -22.2L5.6 -21.6L5 -21.1L4.6 -20.6L4.4 -19.8L4.6 -19.2L5 -18.7L5.8 -18.4L6.6 -18.3L18.3 -18.3L18.3 -6.6L18.4 -5.8L18.7 -5L19.2 -4.6L19.8 -4.4L20.6 -4.6L21.1 -5L21.6 -5.6L22.2 -6.1L22.9 -6.5L24.2 -6.9L25.5 -7L26.8 -6.8L28.1 -6.4L29.3 -5.7L30.3 -4.8L31.1 -3.8L31.7 -2.6L32.1 -1.3L32.2 0L32.1 1.3L31.7 2.6L31.1 3.8L30.3 4.8L29.3 5.7L28.1 6.4L26.8 6.8L25.5 7L24.2 6.9L22.9 6.5L22.2 6.1L21.6 5.6L21.1 5L20.6 4.6L19.8 4.4L19.2 4.6L18.7 5L18.4 5.8L18.3 6.6L18.3 18.3L-18.3 18.3L-18.3 6.6L-18.4 5.8L-18.7 5L-19.2 4.6L-19.8 4.4L-20.6 4.6L-21.1 5L-21.6 5.6L-22.2 6.1L-22.9 6.5L-24.2 6.9L-25.5 7L-26.8 6.8L-28.1 6.4L-29.3 5.7L-30.3 4.8L-31.1 3.8L-31.7 2.6L-32.1 1.3L-32.2 0L-32.1 -1.3L-31.7 -2.6L-31.1 -3.8L-30.3 -4.8L-29.3 -5.7L-28.1 -6.4L-26.8 -6.8L-25.5 -7L-24.2 -6.9L-22.9 -6.5L-22.2 -6.1L-21.6 -5.6L-21.1 -5L-20.6 -4.6L-19.8 -4.4L-19.2 -4.6L-18.7 -5L-18.4 -5.8L-18.3 -6.6L-18.3 -18.3Z" fill="#f3bd4a"/>
<path transform="translate(737.0 753.0) rotate(-35)" d="M-21.4 -21.4L-7.7 -21.4L-6.7 -21.5L-5.9 -21.9L-5.3 -22.4L-5.1 -23.1L-5.3 -24L-5.8 -24.6L-6.5 -25.2L-7.1 -25.9L-7.6 -26.7L-8 -28.2L-8.1 -29.8L-7.9 -31.3L-7.4 -32.8L-6.7 -34.2L-5.6 -35.3L-4.4 -36.3L-3 -37L-1.5 -37.5L0 -37.6L1.5 -37.5L3 -37L4.4 -36.3L5.6 -35.3L6.7 -34.2L7.4 -32.8L7.9 -31.3L8.1 -29.8L8 -28.2L7.6 -26.7L7.1 -25.9L6.5 -25.2L5.8 -24.6L5.3 -24L5.1 -23.1L5.3 -22.4L5.9 -21.9L6.7 -21.5L7.7 -21.4L21.4 -21.4L21.4 21.4L7.7 21.4L6.7 21.5L5.9 21.9L5.3 22.4L5.1 23.1L5.3 24L5.8 24.6L6.5 25.2L7.1 25.9L7.6 26.7L8 28.2L8.1 29.8L7.9 31.3L7.4 32.8L6.7 34.2L5.6 35.3L4.4 36.3L3 37L1.5 37.5L0 37.6L-1.5 37.5L-3 37L-4.4 36.3L-5.6 35.3L-6.7 34.2L-7.4 32.8L-7.9 31.3L-8.1 29.8L-8 28.2L-7.6 26.7L-7.1 25.9L-6.5 25.2L-5.8 24.6L-5.3 24L-5.1 23.1L-5.3 22.4L-5.9 21.9L-6.7 21.5L-7.7 21.4L-21.4 21.4L-21.4 7.7L-21.2 6.7L-20.9 5.9L-20.3 5.3L-19.7 5.1L-18.8 5.3L-18.1 5.8L-17.5 6.5L-16.9 7.1L-16 7.6L-14.5 8L-13 8.1L-11.4 7.9L-9.9 7.4L-8.6 6.7L-7.4 5.6L-6.4 4.4L-5.7 3L-5.3 1.5L-5.1 0L-5.3 -1.5L-5.7 -3L-6.4 -4.4L-7.4 -5.6L-8.6 -6.7L-9.9 -7.4L-11.4 -7.9L-13 -8.1L-14.5 -8L-16 -7.6L-16.9 -7.1L-17.5 -6.5L-18.1 -5.8L-18.8 -5.3L-19.7 -5.1L-20.3 -5.3L-20.9 -5.9L-21.2 -6.7L-21.4 -7.7L-21.4 -21.4Z" fill="#ed733c"/>
<path transform="translate(811.0 795.0) rotate(-15)" d="M-24.8 -24.8L24.8 -24.8L24.8 -8.9L25 -7.8L25.4 -6.8L26.1 -6.2L26.8 -6L27.9 -6.2L28.7 -6.8L29.3 -7.5L30.1 -8.3L31.1 -8.9L32.8 -9.3L34.6 -9.4L36.4 -9.2L38.1 -8.6L39.7 -7.7L41.1 -6.6L42.2 -5.1L43 -3.5L43.6 -1.8L43.7 0L43.6 1.8L43 3.5L42.2 5.1L41.1 6.6L39.7 7.7L38.1 8.6L36.4 9.2L34.6 9.4L32.8 9.3L31.1 8.9L30.1 8.3L29.3 7.5L28.7 6.8L27.9 6.2L26.8 6L26.1 6.2L25.4 6.8L25 7.8L24.8 8.9L24.8 24.8L8.9 24.8L7.8 24.7L6.8 24.3L6.2 23.6L6 22.9L6.2 21.8L6.8 21L7.5 20.4L8.3 19.6L8.9 18.6L9.3 16.9L9.4 15.1L9.2 13.3L8.6 11.6L7.7 10L6.6 8.6L5.1 7.5L3.5 6.7L1.8 6.1L0 6L-1.8 6.1L-3.5 6.7L-5.1 7.5L-6.6 8.6L-7.7 10L-8.6 11.6L-9.2 13.3L-9.4 15.1L-9.3 16.9L-8.9 18.6L-8.3 19.6L-7.5 20.4L-6.8 21L-6.2 21.8L-6 22.9L-6.2 23.6L-6.8 24.3L-7.8 24.7L-8.9 24.8L-24.8 24.8L-24.8 8.9L-25 7.8L-25.4 6.8L-26.1 6.2L-26.8 6L-27.9 6.2L-28.7 6.8L-29.3 7.5L-30.1 8.3L-31.1 8.9L-32.8 9.3L-34.6 9.4L-36.4 9.2L-38.1 8.6L-39.7 7.7L-41.1 6.6L-42.2 5.1L-43 3.5L-43.6 1.8L-43.7 0L-43.6 -1.8L-43 -3.5L-42.2 -5.1L-41.1 -6.6L-39.7 -7.7L-38.1 -8.6L-36.4 -9.2L-34.6 -9.4L-32.8 -9.3L-31.1 -8.9L-30.1 -8.3L-29.3 -7.5L-28.7 -6.8L-27.9 -6.2L-26.8 -6L-26.1 -6.2L-25.4 -6.8L-25 -7.8L-24.8 -8.9L-24.8 -24.8Z" fill="#ed733c"/>
<path transform="translate(903.7 791.8) rotate(15)" d="M-17.4 -17.4L-4.7 -17.4L-4.1 -17.5L-3.6 -17.7L-3.2 -18L-3.1 -18.4L-3.3 -19L-3.6 -19.4L-4 -19.7L-4.4 -20.1L-4.7 -20.6L-4.9 -21.6L-5 -22.5L-4.8 -23.5L-4.5 -24.4L-4.1 -25.2L-3.4 -25.9L-2.7 -26.5L-1.9 -26.9L-0.9 -27.2L0 -27.3L0.9 -27.2L1.9 -26.9L2.7 -26.5L3.4 -25.9L4.1 -25.2L4.5 -24.4L4.8 -23.5L5 -22.5L4.9 -21.6L4.7 -20.6L4.4 -20.1L4 -19.7L3.6 -19.4L3.3 -19L3.1 -18.4L3.2 -18L3.6 -17.7L4.1 -17.5L4.7 -17.4L17.4 -17.4L17.4 -4.7L17.5 -4.1L17.7 -3.6L18 -3.2L18.4 -3.1L19 -3.3L19.4 -3.6L19.7 -4L20.1 -4.4L20.6 -4.7L21.6 -4.9L22.5 -5L23.5 -4.8L24.4 -4.5L25.2 -4.1L25.9 -3.4L26.5 -2.7L26.9 -1.9L27.2 -0.9L27.3 0L27.2 0.9L26.9 1.9L26.5 2.7L25.9 3.4L25.2 4.1L24.4 4.5L23.5 4.8L22.5 5L21.6 4.9L20.6 4.7L20.1 4.4L19.7 4L19.4 3.6L19 3.3L18.4 3.1L18 3.2L17.7 3.6L17.5 4.1L17.4 4.7L17.4 17.4L4.7 17.4L4.1 17.5L3.6 17.7L3.2 18L3.1 18.4L3.3 19L3.6 19.4L4 19.7L4.4 20.1L4.7 20.6L4.9 21.6L5 22.5L4.8 23.5L4.5 24.4L4.1 25.2L3.4 25.9L2.7 26.5L1.9 26.9L0.9 27.2L0 27.3L-0.9 27.2L-1.9 26.9L-2.7 26.5L-3.4 25.9L-4.1 25.2L-4.5 24.4L-4.8 23.5L-5 22.5L-4.9 21.6L-4.7 20.6L-4.4 20.1L-4 19.7L-3.6 19.4L-3.3 19L-3.1 18.4L-3.2 18L-3.6 17.7L-4.1 17.5L-4.7 17.4L-17.4 17.4L-17.4 4.7L-17.5 4.1L-17.7 3.6L-18 3.2L-18.4 3.1L-19 3.3L-19.4 3.6L-19.7 4L-20.1 4.4L-20.6 4.7L-21.6 4.9L-22.5 5L-23.5 4.8L-24.4 4.5L-25.2 4.1L-25.9 3.4L-26.5 2.7L-26.9 1.9L-27.2 0.9L-27.3 0L-27.2 -0.9L-26.9 -1.9L-26.5 -2.7L-25.9 -3.4L-25.2 -4.1L-24.4 -4.5L-23.5 -4.8L-22.5 -5L-21.6 -4.9L-20.6 -4.7L-20.1 -4.4L-19.7 -4L-19.4 -3.6L-19 -3.3L-18.4 -3.1L-18 -3.2L-17.7 -3.6L-17.5 -4.1L-17.4 -4.7L-17.4 -17.4Z" fill="#44a7de"/>
<path transform="translate(903.3 871.7) rotate(35)" d="M-40.3 -40.3L-14.5 -40.3L-12.6 -40.5L-11.1 -41.2L-10 -42.3L-9.7 -43.5L-10 -45.2L-11 -46.4L-12.2 -47.5L-13.5 -48.7L-14.4 -50.3L-15.1 -53.2L-15.3 -56.1L-14.9 -59L-14 -61.8L-12.5 -64.3L-10.6 -66.6L-8.3 -68.4L-5.7 -69.8L-2.9 -70.6L0 -70.9L2.9 -70.6L5.7 -69.8L8.3 -68.4L10.6 -66.6L12.5 -64.3L14 -61.8L14.9 -59L15.3 -56.1L15.1 -53.2L14.4 -50.3L13.5 -48.7L12.2 -47.5L11 -46.4L10 -45.2L9.7 -43.5L10 -42.3L11.1 -41.2L12.6 -40.5L14.5 -40.3L40.3 -40.3L40.3 -14.5L40.5 -12.6L41.2 -11.1L42.3 -10L43.5 -9.7L45.2 -10L46.4 -11L47.5 -12.2L48.7 -13.5L50.3 -14.4L53.2 -15.1L56.1 -15.3L59 -14.9L61.8 -14L64.3 -12.5L66.6 -10.6L68.4 -8.3L69.8 -5.7L70.6 -2.9L70.9 0L70.6 2.9L69.8 5.7L68.4 8.3L66.6 10.6L64.3 12.5L61.8 14L59 14.9L56.1 15.3L53.2 15.1L50.3 14.4L48.7 13.5L47.5 12.2L46.4 11L45.2 10L43.5 9.7L42.3 10L41.2 11.1L40.5 12.6L40.3 14.5L40.3 40.3L14.5 40.3L12.6 40L11.1 39.3L10 38.3L9.7 37L10 35.4L11 34.1L12.2 33L13.5 31.8L14.4 30.2L15.1 27.4L15.3 24.4L14.9 21.5L14 18.7L12.5 16.2L10.6 14L8.3 12.1L5.7 10.8L2.9 9.9L0 9.7L-2.9 9.9L-5.7 10.8L-8.3 12.1L-10.6 14L-12.5 16.2L-14 18.7L-14.9 21.5L-15.3 24.4L-15.1 27.4L-14.4 30.2L-13.5 31.8L-12.2 33L-11 34.1L-10 35.4L-9.7 37L-10 38.3L-11.1 39.3L-12.6 40L-14.5 40.3L-40.3 40.3L-40.3 14.5L-40 12.6L-39.3 11.1L-38.3 10L-37 9.7L-35.4 10L-34.1 11L-33 12.2L-31.8 13.5L-30.2 14.4L-27.4 15.1L-24.4 15.3L-21.5 14.9L-18.7 14L-16.2 12.5L-14 10.6L-12.1 8.3L-10.8 5.7L-9.9 2.9L-9.7 0L-9.9 -2.9L-10.8 -5.7L-12.1 -8.3L-14 -10.6L-16.2 -12.5L-18.7 -14L-21.5 -14.9L-24.4 -15.3L-27.4 -15.1L-30.2 -14.4L-31.8 -13.5L-33 -12.2L-34.1 -11L-35.4 -10L-37 -9.7L-38.3 -10L-39.3 -11.1L-40 -12.6L-40.3 -14.5L-40.3 -40.3Z" fill="#44a7de"/>
<path transform="translate(766.5 920.7) rotate(10)" d="M-13.7 -13.7L-3.7 -13.7L-3.2 -13.8L-2.8 -14L-2.6 -14.2L-2.5 -14.6L-2.6 -15L-2.8 -15.3L-3.1 -15.6L-3.4 -15.9L-3.7 -16.3L-3.9 -17L-3.9 -17.8L-3.8 -18.5L-3.6 -19.2L-3.2 -19.9L-2.7 -20.5L-2.1 -20.9L-1.5 -21.3L-0.7 -21.5L0 -21.6L0.7 -21.5L1.5 -21.3L2.1 -20.9L2.7 -20.5L3.2 -19.9L3.6 -19.2L3.8 -18.5L3.9 -17.8L3.9 -17L3.7 -16.3L3.4 -15.9L3.1 -15.6L2.8 -15.3L2.6 -15L2.5 -14.6L2.6 -14.2L2.8 -14L3.2 -13.8L3.7 -13.7L13.7 -13.7L13.7 -3.7L13.8 -3.2L14 -2.8L14.2 -2.6L14.6 -2.5L15 -2.6L15.3 -2.8L15.6 -3.1L15.9 -3.4L16.3 -3.7L17 -3.9L17.8 -3.9L18.5 -3.8L19.2 -3.6L19.9 -3.2L20.5 -2.7L20.9 -2.1L21.3 -1.5L21.5 -0.7L21.6 0L21.5 0.7L21.3 1.5L20.9 2.1L20.5 2.7L19.9 3.2L19.2 3.6L18.5 3.8L17.8 3.9L17 3.9L16.3 3.7L15.9 3.4L15.6 3.1L15.3 2.8L15 2.6L14.6 2.5L14.2 2.6L14 2.8L13.8 3.2L13.7 3.7L13.7 13.7L3.7 13.7L3.2 13.8L2.8 14L2.6 14.2L2.5 14.6L2.6 15L2.8 15.3L3.1 15.6L3.4 15.9L3.7 16.3L3.9 17L3.9 17.8L3.8 18.5L3.6 19.2L3.2 19.9L2.7 20.5L2.1 20.9L1.5 21.3L0.7 21.5L0 21.6L-0.7 21.5L-1.5 21.3L-2.1 20.9L-2.7 20.5L-3.2 19.9L-3.6 19.2L-3.8 18.5L-3.9 17.8L-3.9 17L-3.7 16.3L-3.4 15.9L-3.1 15.6L-2.8 15.3L-2.6 15L-2.5 14.6L-2.6 14.2L-2.8 14L-3.2 13.8L-3.7 13.7L-13.7 13.7L-13.7 3.7L-13.8 3.2L-14 2.8L-14.2 2.6L-14.6 2.5L-15 2.6L-15.3 2.8L-15.6 3.1L-15.9 3.4L-16.3 3.7L-17 3.9L-17.8 3.9L-18.5 3.8L-19.2 3.6L-19.9 3.2L-20.5 2.7L-20.9 2.1L-21.3 1.5L-21.5 0.7L-21.6 0L-21.5 -0.7L-21.3 -1.5L-20.9 -2.1L-20.5 -2.7L-19.9 -3.2L-19.2 -3.6L-18.5 -3.8L-17.8 -3.9L-17 -3.9L-16.3 -3.7L-15.9 -3.4L-15.6 -3.1L-15.3 -2.8L-15 -2.6L-14.6 -2.5L-14.2 -2.6L-14 -2.8L-13.8 -3.2L-13.7 -3.7L-13.7 -13.7Z" fill="#44a7de"/>
<path transform="translate(830.5 843.2) rotate(30)" d="M-19.3 -19.3L-6.9 -19.3L-6.1 -19.4L-5.3 -19.7L-4.8 -20.2L-4.6 -20.8L-4.8 -21.6L-5.3 -22.3L-5.9 -22.8L-6.4 -23.4L-6.9 -24.1L-7.2 -25.5L-7.3 -26.9L-7.1 -28.3L-6.7 -29.6L-6 -30.8L-5.1 -31.9L-4 -32.8L-2.7 -33.4L-1.4 -33.8L0 -34L1.4 -33.8L2.7 -33.4L4 -32.8L5.1 -31.9L6 -30.8L6.7 -29.6L7.1 -28.3L7.3 -26.9L7.2 -25.5L6.9 -24.1L6.4 -23.4L5.9 -22.8L5.3 -22.3L4.8 -21.6L4.6 -20.8L4.8 -20.2L5.3 -19.7L6.1 -19.4L6.9 -19.3L19.3 -19.3L19.3 -6.9L19.4 -6.1L19.7 -5.3L20.2 -4.8L20.8 -4.6L21.6 -4.8L22.3 -5.3L22.8 -5.9L23.4 -6.4L24.1 -6.9L25.5 -7.2L26.9 -7.3L28.3 -7.1L29.6 -6.7L30.8 -6L31.9 -5.1L32.8 -4L33.4 -2.7L33.8 -1.4L34 0L33.8 1.4L33.4 2.7L32.8 4L31.9 5.1L30.8 6L29.6 6.7L28.3 7.1L26.9 7.3L25.5 7.2L24.1 6.9L23.4 6.4L22.8 5.9L22.3 5.3L21.6 4.8L20.8 4.6L20.2 4.8L19.7 5.3L19.4 6.1L19.3 6.9L19.3 19.3L6.9 19.3L6.1 19.4L5.3 19.7L4.8 20.2L4.6 20.8L4.8 21.6L5.3 22.3L5.9 22.8L6.4 23.4L6.9 24.1L7.2 25.5L7.3 26.9L7.1 28.3L6.7 29.6L6 30.8L5.1 31.9L4 32.8L2.7 33.4L1.4 33.8L0 34L-1.4 33.8L-2.7 33.4L-4 32.8L-5.1 31.9L-6 30.8L-6.7 29.6L-7.1 28.3L-7.3 26.9L-7.2 25.5L-6.9 24.1L-6.4 23.4L-5.9 22.8L-5.3 22.3L-4.8 21.6L-4.6 20.8L-4.8 20.2L-5.3 19.7L-6.1 19.4L-6.9 19.3L-19.3 19.3L-19.3 -19.3Z" fill="#44a7de"/>
<path transform="translate(747.5 846.6) rotate(10)" d="M-23.8 -23.8L-8.6 -23.8L-7.5 -24L-6.6 -24.4L-5.9 -25L-5.7 -25.7L-5.9 -26.7L-6.5 -27.5L-7.2 -28.1L-8 -28.8L-8.5 -29.8L-8.9 -31.4L-9 -33.2L-8.8 -34.9L-8.3 -36.5L-7.4 -38L-6.3 -39.4L-4.9 -40.4L-3.4 -41.2L-1.7 -41.7L0 -41.9L1.7 -41.7L3.4 -41.2L4.9 -40.4L6.3 -39.4L7.4 -38L8.3 -36.5L8.8 -34.9L9 -33.2L8.9 -31.4L8.5 -29.8L8 -28.8L7.2 -28.1L6.5 -27.5L5.9 -26.7L5.7 -25.7L5.9 -25L6.6 -24.4L7.5 -24L8.6 -23.8L23.8 -23.8L23.8 -8.6L24 -7.5L24.4 -6.6L25 -5.9L25.7 -5.7L26.7 -5.9L27.5 -6.5L28.1 -7.2L28.8 -8L29.8 -8.5L31.4 -8.9L33.2 -9L34.9 -8.8L36.5 -8.3L38 -7.4L39.4 -6.3L40.4 -4.9L41.2 -3.4L41.7 -1.7L41.9 0L41.7 1.7L41.2 3.4L40.4 4.9L39.4 6.3L38 7.4L36.5 8.3L34.9 8.8L33.2 9L31.4 8.9L29.8 8.5L28.8 8L28.1 7.2L27.5 6.5L26.7 5.9L25.7 5.7L25 5.9L24.4 6.6L24 7.5L23.8 8.6L23.8 23.8L-23.8 23.8L-23.8 8.6L-24 7.5L-24.4 6.6L-25 5.9L-25.7 5.7L-26.7 5.9L-27.5 6.5L-28.1 7.2L-28.8 8L-29.8 8.5L-31.4 8.9L-33.2 9L-34.9 8.8L-36.5 8.3L-38 7.4L-39.4 6.3L-40.4 4.9L-41.2 3.4L-41.7 1.7L-41.9 0L-41.7 -1.7L-41.2 -3.4L-40.4 -4.9L-39.4 -6.3L-38 -7.4L-36.5 -8.3L-34.9 -8.8L-33.2 -9L-31.4 -8.9L-29.8 -8.5L-28.8 -8L-28.1 -7.2L-27.5 -6.5L-26.7 -5.9L-25.7 -5.7L-25 -5.9L-24.4 -6.6L-24 -7.5L-23.8 -8.6L-23.8 -23.8Z" fill="#44a7de"/>
<path transform="translate(689.4 825.9) rotate(0)" d="M-16.4 -16.4L-4.4 -16.4L-3.9 -16.5L-3.4 -16.7L-3.1 -17L-3 -17.4L-3.1 -17.9L-3.4 -18.3L-3.7 -18.6L-4.1 -19L-4.4 -19.5L-4.6 -20.3L-4.7 -21.2L-4.6 -22.1L-4.3 -23L-3.8 -23.8L-3.2 -24.4L-2.5 -25L-1.8 -25.4L-0.9 -25.7L0 -25.8L0.9 -25.7L1.8 -25.4L2.5 -25L3.2 -24.4L3.8 -23.8L4.3 -23L4.6 -22.1L4.7 -21.2L4.6 -20.3L4.4 -19.5L4.1 -19L3.7 -18.6L3.4 -18.3L3.1 -17.9L3 -17.4L3.1 -17L3.4 -16.7L3.9 -16.5L4.4 -16.4L16.4 -16.4L16.4 -4.4L16.5 -3.9L16.7 -3.4L17 -3.1L17.4 -3L17.9 -3.1L18.3 -3.4L18.6 -3.7L19 -4.1L19.5 -4.4L20.3 -4.6L21.2 -4.7L22.1 -4.6L23 -4.3L23.8 -3.8L24.4 -3.2L25 -2.5L25.4 -1.8L25.7 -0.9L25.8 0L25.7 0.9L25.4 1.8L25 2.5L24.4 3.2L23.8 3.8L23 4.3L22.1 4.6L21.2 4.7L20.3 4.6L19.5 4.4L19 4.1L18.6 3.7L18.3 3.4L17.9 3.1L17.4 3L17 3.1L16.7 3.4L16.5 3.9L16.4 4.4L16.4 16.4L4.4 16.4L3.9 16.5L3.4 16.7L3.1 17L3 17.4L3.1 17.9L3.4 18.3L3.7 18.6L4.1 19L4.4 19.5L4.6 20.3L4.7 21.2L4.6 22.1L4.3 23L3.8 23.8L3.2 24.4L2.5 25L1.8 25.4L0.9 25.7L0 25.8L-0.9 25.7L-1.8 25.4L-2.5 25L-3.2 24.4L-3.8 23.8L-4.3 23L-4.6 22.1L-4.7 21.2L-4.6 20.3L-4.4 19.5L-4.1 19L-3.7 18.6L-3.4 18.3L-3.1 17.9L-3 17.4L-3.1 17L-3.4 16.7L-3.9 16.5L-4.4 16.4L-16.4 16.4L-16.4 4.4L-16.5 3.9L-16.7 3.4L-17 3.1L-17.4 3L-17.9 3.1L-18.3 3.4L-18.6 3.7L-19 4.1L-19.5 4.4L-20.3 4.6L-21.2 4.7L-22.1 4.6L-23 4.3L-23.8 3.8L-24.4 3.2L-25 2.5L-25.4 1.8L-25.7 0.9L-25.8 0L-25.7 -0.9L-25.4 -1.8L-25 -2.5L-24.4 -3.2L-23.8 -3.8L-23 -4.3L-22.1 -4.6L-21.2 -4.7L-20.3 -4.6L-19.5 -4.4L-19 -4.1L-18.6 -3.7L-18.3 -3.4L-17.9 -3.1L-17.4 -3L-17 -3.1L-16.7 -3.4L-16.5 -3.9L-16.4 -4.4L-16.4 -16.4Z" fill="#f2b640"/>
<path transform="translate(705.2 873.0) rotate(0)" d="M-18.2 -18.2L-4.9 -18.2L-4.3 -18.3L-3.8 -18.5L-3.4 -18.9L-3.3 -19.3L-3.4 -19.9L-3.7 -20.3L-4.1 -20.7L-4.6 -21.1L-4.9 -21.6L-5.1 -22.6L-5.2 -23.6L-5.1 -24.6L-4.7 -25.5L-4.3 -26.4L-3.6 -27.1L-2.8 -27.8L-1.9 -28.2L-1 -28.5L0 -28.6L1 -28.5L1.9 -28.2L2.8 -27.8L3.6 -27.1L4.3 -26.4L4.7 -25.5L5.1 -24.6L5.2 -23.6L5.1 -22.6L4.9 -21.6L4.6 -21.1L4.1 -20.7L3.7 -20.3L3.4 -19.9L3.3 -19.3L3.4 -18.9L3.8 -18.5L4.3 -18.3L4.9 -18.2L18.2 -18.2L18.2 -4.9L18.3 -4.3L18.5 -3.8L18.9 -3.4L19.3 -3.3L19.9 -3.4L20.3 -3.7L20.7 -4.1L21.1 -4.6L21.6 -4.9L22.6 -5.1L23.6 -5.2L24.6 -5.1L25.5 -4.7L26.4 -4.3L27.1 -3.6L27.8 -2.8L28.2 -1.9L28.5 -1L28.6 0L28.5 1L28.2 1.9L27.8 2.8L27.1 3.6L26.4 4.3L25.5 4.7L24.6 5.1L23.6 5.2L22.6 5.1L21.6 4.9L21.1 4.6L20.7 4.1L20.3 3.7L19.9 3.4L19.3 3.3L18.9 3.4L18.5 3.8L18.3 4.3L18.2 4.9L18.2 18.2L4.9 18.2L4.3 18.3L3.8 18.5L3.4 18.9L3.3 19.3L3.4 19.9L3.7 20.3L4.1 20.7L4.6 21.1L4.9 21.6L5.1 22.6L5.2 23.6L5.1 24.6L4.7 25.5L4.3 26.4L3.6 27.1L2.8 27.8L1.9 28.2L1 28.5L0 28.6L-1 28.5L-1.9 28.2L-2.8 27.8L-3.6 27.1L-4.3 26.4L-4.7 25.5L-5.1 24.6L-5.2 23.6L-5.1 22.6L-4.9 21.6L-4.6 21.1L-4.1 20.7L-3.7 20.3L-3.4 19.9L-3.3 19.3L-3.4 18.9L-3.8 18.5L-4.3 18.3L-4.9 18.2L-18.2 18.2L-18.2 4.9L-18.3 4.3L-18.5 3.8L-18.9 3.4L-19.3 3.3L-19.9 3.4L-20.3 3.7L-20.7 4.1L-21.1 4.6L-21.6 4.9L-22.6 5.1L-23.6 5.2L-24.6 5.1L-25.5 4.7L-26.4 4.3L-27.1 3.6L-27.8 2.8L-28.2 1.9L-28.5 1L-28.6 0L-28.5 -1L-28.2 -1.9L-27.8 -2.8L-27.1 -3.6L-26.4 -4.3L-25.5 -4.7L-24.6 -5.1L-23.6 -5.2L-22.6 -5.1L-21.6 -4.9L-21.1 -4.6L-20.7 -4.1L-20.3 -3.7L-19.9 -3.4L-19.3 -3.3L-18.9 -3.4L-18.5 -3.8L-18.3 -4.3L-18.2 -4.9L-18.2 -18.2Z" fill="#333639"/>
<path transform="translate(643.5 885.5) rotate(45)" d="M-27.6 -27.6L-9.9 -27.6L-8.7 -27.7L-7.6 -28.2L-6.9 -28.9L-6.6 -29.8L-6.9 -30.9L-7.5 -31.8L-8.4 -32.6L-9.2 -33.4L-9.8 -34.5L-10.4 -36.4L-10.5 -38.4L-10.2 -40.4L-9.6 -42.3L-8.6 -44.1L-7.3 -45.6L-5.7 -46.8L-3.9 -47.8L-2 -48.3L0 -48.5L2 -48.3L3.9 -47.8L5.7 -46.8L7.3 -45.6L8.6 -44.1L9.6 -42.3L10.2 -40.4L10.5 -38.4L10.4 -36.4L9.8 -34.5L9.2 -33.4L8.4 -32.6L7.5 -31.8L6.9 -30.9L6.6 -29.8L6.9 -28.9L7.6 -28.2L8.7 -27.7L9.9 -27.6L27.6 -27.6L27.6 -9.9L27.4 -8.7L26.9 -7.6L26.2 -6.9L25.4 -6.6L24.2 -6.9L23.4 -7.5L22.6 -8.4L21.8 -9.2L20.7 -9.8L18.7 -10.4L16.7 -10.5L14.7 -10.2L12.8 -9.6L11.1 -8.6L9.6 -7.3L8.3 -5.7L7.4 -3.9L6.8 -2L6.6 0L6.8 2L7.4 3.9L8.3 5.7L9.6 7.3L11.1 8.6L12.8 9.6L14.7 10.2L16.7 10.5L18.7 10.4L20.7 9.8L21.8 9.2L22.6 8.4L23.4 7.5L24.2 6.9L25.4 6.6L26.2 6.9L26.9 7.6L27.4 8.7L27.6 9.9L27.6 27.6L-27.6 27.6L-27.6 9.9L-27.4 8.7L-26.9 7.6L-26.2 6.9L-25.4 6.6L-24.2 6.9L-23.4 7.5L-22.6 8.4L-21.8 9.2L-20.7 9.8L-18.7 10.4L-16.7 10.5L-14.7 10.2L-12.8 9.6L-11.1 8.6L-9.6 7.3L-8.3 5.7L-7.4 3.9L-6.8 2L-6.6 0L-6.8 -2L-7.4 -3.9L-8.3 -5.7L-9.6 -7.3L-11.1 -8.6L-12.8 -9.6L-14.7 -10.2L-16.7 -10.5L-18.7 -10.4L-20.7 -9.8L-21.8 -9.2L-22.6 -8.4L-23.4 -7.5L-24.2 -6.9L-25.4 -6.6L-26.2 -6.9L-26.9 -7.6L-27.4 -8.7L-27.6 -9.9L-27.6 -27.6Z" fill="#ed733c"/>
<path transform="translate(750.2 890.9) rotate(20)" d="M-21 -21L-5.7 -21L-5 -21.1L-4.3 -21.4L-3.9 -21.8L-3.8 -22.3L-3.9 -23L-4.3 -23.5L-4.8 -23.9L-5.3 -24.4L-5.6 -25L-5.9 -26.1L-6 -27.3L-5.8 -28.4L-5.5 -29.5L-4.9 -30.5L-4.2 -31.4L-3.3 -32.1L-2.2 -32.6L-1.1 -32.9L0 -33L1.1 -32.9L2.2 -32.6L3.3 -32.1L4.2 -31.4L4.9 -30.5L5.5 -29.5L5.8 -28.4L6 -27.3L5.9 -26.1L5.6 -25L5.3 -24.4L4.8 -23.9L4.3 -23.5L3.9 -23L3.8 -22.3L3.9 -21.8L4.3 -21.4L5 -21.1L5.7 -21L21 -21L21 -5.7L21.1 -5L21.4 -4.3L21.8 -3.9L22.3 -3.8L23 -3.9L23.5 -4.3L23.9 -4.8L24.4 -5.3L25 -5.6L26.1 -5.9L27.3 -6L28.4 -5.8L29.5 -5.5L30.5 -4.9L31.4 -4.2L32.1 -3.3L32.6 -2.2L32.9 -1.1L33 0L32.9 1.1L32.6 2.2L32.1 3.3L31.4 4.2L30.5 4.9L29.5 5.5L28.4 5.8L27.3 6L26.1 5.9L25 5.6L24.4 5.3L23.9 4.8L23.5 4.3L23 3.9L22.3 3.8L21.8 3.9L21.4 4.3L21.1 5L21 5.7L21 21L5.7 21L5 21.1L4.3 21.4L3.9 21.8L3.8 22.3L3.9 23L4.3 23.5L4.8 23.9L5.3 24.4L5.6 25L5.9 26.1L6 27.3L5.8 28.4L5.5 29.5L4.9 30.5L4.2 31.4L3.3 32.1L2.2 32.6L1.1 32.9L0 33L-1.1 32.9L-2.2 32.6L-3.3 32.1L-4.2 31.4L-4.9 30.5L-5.5 29.5L-5.8 28.4L-6 27.3L-5.9 26.1L-5.6 25L-5.3 24.4L-4.8 23.9L-4.3 23.5L-3.9 23L-3.8 22.3L-3.9 21.8L-4.3 21.4L-5 21.1L-5.7 21L-21 21L-21 5.7L-21.1 5L-21.4 4.3L-21.8 3.9L-22.3 3.8L-23 3.9L-23.5 4.3L-23.9 4.8L-24.4 5.3L-25 5.6L-26.1 5.9L-27.3 6L-28.4 5.8L-29.5 5.5L-30.5 4.9L-31.4 4.2L-32.1 3.3L-32.6 2.2L-32.9 1.1L-33 0L-32.9 -1.1L-32.6 -2.2L-32.1 -3.3L-31.4 -4.2L-30.5 -4.9L-29.5 -5.5L-28.4 -5.8L-27.3 -6L-26.1 -5.9L-25 -5.6L-24.4 -5.3L-23.9 -4.8L-23.5 -4.3L-23 -3.9L-22.3 -3.8L-21.8 -3.9L-21.4 -4.3L-21.1 -5L-21 -5.7L-21 -21Z" fill="#f2b640"/>
<path transform="translate(692.9 938.2) rotate(30)" d="M-23.3 -23.3L-8.4 -23.3L-7.3 -23.4L-6.4 -23.8L-5.8 -24.4L-5.6 -25.1L-5.8 -26.1L-6.4 -26.8L-7.1 -27.5L-7.8 -28.2L-8.3 -29.1L-8.7 -30.7L-8.8 -32.4L-8.6 -34.1L-8.1 -35.7L-7.2 -37.2L-6.1 -38.5L-4.8 -39.5L-3.3 -40.3L-1.7 -40.8L0 -41L1.7 -40.8L3.3 -40.3L4.8 -39.5L6.1 -38.5L7.2 -37.2L8.1 -35.7L8.6 -34.1L8.8 -32.4L8.7 -30.7L8.3 -29.1L7.8 -28.2L7.1 -27.5L6.4 -26.8L5.8 -26.1L5.6 -25.1L5.8 -24.4L6.4 -23.8L7.3 -23.4L8.4 -23.3L23.3 -23.3L23.3 -8.4L23.1 -7.3L22.7 -6.4L22.1 -5.8L21.4 -5.6L20.4 -5.8L19.7 -6.4L19.1 -7.1L18.4 -7.8L17.5 -8.3L15.8 -8.7L14.1 -8.8L12.4 -8.6L10.8 -8.1L9.4 -7.2L8.1 -6.1L7 -4.8L6.2 -3.3L5.8 -1.7L5.6 0L5.8 1.7L6.2 3.3L7 4.8L8.1 6.1L9.4 7.2L10.8 8.1L12.4 8.6L14.1 8.8L15.8 8.7L17.5 8.3L18.4 7.8L19.1 7.1L19.7 6.4L20.4 5.8L21.4 5.6L22.1 5.8L22.7 6.4L23.1 7.3L23.3 8.4L23.3 23.3L8.4 23.3L7.3 23.4L6.4 23.8L5.8 24.4L5.6 25.1L5.8 26.1L6.4 26.8L7.1 27.5L7.8 28.2L8.3 29.1L8.7 30.7L8.8 32.4L8.6 34.1L8.1 35.7L7.2 37.2L6.1 38.5L4.8 39.5L3.3 40.3L1.7 40.8L0 41L-1.7 40.8L-3.3 40.3L-4.8 39.5L-6.1 38.5L-7.2 37.2L-8.1 35.7L-8.6 34.1L-8.8 32.4L-8.7 30.7L-8.3 29.1L-7.8 28.2L-7.1 27.5L-6.4 26.8L-5.8 26.1L-5.6 25.1L-5.8 24.4L-6.4 23.8L-7.3 23.4L-8.4 23.3L-23.3 23.3L-23.3 8.4L-23.4 7.3L-23.8 6.4L-24.4 5.8L-25.1 5.6L-26.1 5.8L-26.8 6.4L-27.5 7.1L-28.2 7.8L-29.1 8.3L-30.7 8.7L-32.4 8.8L-34.1 8.6L-35.7 8.1L-37.2 7.2L-38.5 6.1L-39.5 4.8L-40.3 3.3L-40.8 1.7L-41 0L-40.8 -1.7L-40.3 -3.3L-39.5 -4.8L-38.5 -6.1L-37.2 -7.2L-35.7 -8.1L-34.1 -8.6L-32.4 -8.8L-30.7 -8.7L-29.1 -8.3L-28.2 -7.8L-27.5 -7.1L-26.8 -6.4L-26.1 -5.8L-25.1 -5.6L-24.4 -5.8L-23.8 -6.4L-23.4 -7.3L-23.3 -8.4L-23.3 -23.3Z" fill="#f2bd50"/>
<path transform="translate(786.8 951.1) rotate(-18.5)" d="M-29.5 -29.5L-10.6 -29.5L-9.3 -29.3L-8.1 -28.8L-7.3 -28L-7.1 -27.1L-7.4 -25.9L-8.1 -25L-9 -24.2L-9.8 -23.3L-10.5 -22.1L-11.1 -20L-11.2 -17.9L-10.9 -15.8L-10.2 -13.7L-9.2 -11.9L-7.8 -10.2L-6.1 -8.9L-4.2 -7.9L-2.1 -7.3L0 -7.1L2.1 -7.3L4.2 -7.9L6.1 -8.9L7.8 -10.2L9.2 -11.9L10.2 -13.7L10.9 -15.8L11.2 -17.9L11.1 -20L10.5 -22.1L9.8 -23.3L9 -24.2L8.1 -25L7.4 -25.9L7.1 -27.1L7.3 -28L8.1 -28.8L9.3 -29.3L10.6 -29.5L29.5 -29.5L29.5 -10.6L29.7 -9.3L30.2 -8.1L30.9 -7.3L31.8 -7.1L33.1 -7.4L34 -8.1L34.8 -9L35.7 -9.8L36.9 -10.5L38.9 -11.1L41.1 -11.2L43.2 -10.9L45.2 -10.2L47.1 -9.2L48.7 -7.8L50.1 -6.1L51.1 -4.2L51.7 -2.1L51.9 0L51.7 2.1L51.1 4.2L50.1 6.1L48.7 7.8L47.1 9.2L45.2 10.2L43.2 10.9L41.1 11.2L38.9 11.1L36.9 10.5L35.7 9.8L34.8 9L34 8.1L33.1 7.4L31.8 7.1L30.9 7.3L30.2 8.1L29.7 9.3L29.5 10.6L29.5 29.5L10.6 29.5L9.3 29.3L8.1 28.8L7.3 28L7.1 27.1L7.4 25.9L8.1 25L9 24.2L9.8 23.3L10.5 22.1L11.1 20L11.2 17.9L10.9 15.8L10.2 13.7L9.2 11.9L7.8 10.2L6.1 8.9L4.2 7.9L2.1 7.3L0 7.1L-2.1 7.3L-4.2 7.9L-6.1 8.9L-7.8 10.2L-9.2 11.9L-10.2 13.7L-10.9 15.8L-11.2 17.9L-11.1 20L-10.5 22.1L-9.8 23.3L-9 24.2L-8.1 25L-7.4 25.9L-7.1 27.1L-7.3 28L-8.1 28.8L-9.3 29.3L-10.6 29.5L-29.5 29.5L-29.5 -29.5Z" fill="#ed733c"/>
<path transform="translate(540.2 870.2) rotate(27)" d="M-24.7 -24.7L-8.9 -24.7L-7.7 -24.8L-6.8 -25.2L-6.1 -25.9L-5.9 -26.6L-6.2 -27.7L-6.7 -28.4L-7.5 -29.1L-8.2 -29.9L-8.8 -30.8L-9.3 -32.6L-9.4 -34.4L-9.1 -36.2L-8.6 -37.9L-7.7 -39.4L-6.5 -40.8L-5.1 -41.9L-3.5 -42.7L-1.8 -43.2L0 -43.4L1.8 -43.2L3.5 -42.7L5.1 -41.9L6.5 -40.8L7.7 -39.4L8.6 -37.9L9.1 -36.2L9.4 -34.4L9.3 -32.6L8.8 -30.8L8.2 -29.9L7.5 -29.1L6.7 -28.4L6.2 -27.7L5.9 -26.6L6.1 -25.9L6.8 -25.2L7.7 -24.8L8.9 -24.7L24.7 -24.7L24.7 -8.9L24.8 -7.7L25.2 -6.8L25.9 -6.1L26.6 -5.9L27.7 -6.2L28.4 -6.7L29.1 -7.5L29.9 -8.2L30.8 -8.8L32.6 -9.3L34.4 -9.4L36.2 -9.1L37.9 -8.6L39.4 -7.7L40.8 -6.5L41.9 -5.1L42.7 -3.5L43.2 -1.8L43.4 0L43.2 1.8L42.7 3.5L41.9 5.1L40.8 6.5L39.4 7.7L37.9 8.6L36.2 9.1L34.4 9.4L32.6 9.3L30.8 8.8L29.9 8.2L29.1 7.5L28.4 6.7L27.7 6.2L26.6 5.9L25.9 6.1L25.2 6.8L24.8 7.7L24.7 8.9L24.7 24.7L8.9 24.7L7.7 24.8L6.8 25.2L6.1 25.9L5.9 26.6L6.2 27.7L6.7 28.4L7.5 29.1L8.2 29.9L8.8 30.8L9.3 32.6L9.4 34.4L9.1 36.2L8.6 37.9L7.7 39.4L6.5 40.8L5.1 41.9L3.5 42.7L1.8 43.2L0 43.4L-1.8 43.2L-3.5 42.7L-5.1 41.9L-6.5 40.8L-7.7 39.4L-8.6 37.9L-9.1 36.2L-9.4 34.4L-9.3 32.6L-8.8 30.8L-8.2 29.9L-7.5 29.1L-6.7 28.4L-6.2 27.7L-5.9 26.6L-6.1 25.9L-6.8 25.2L-7.7 24.8L-8.9 24.7L-24.7 24.7L-24.7 8.9L-24.5 7.7L-24.1 6.8L-23.4 6.1L-22.7 5.9L-21.7 6.2L-20.9 6.7L-20.2 7.5L-19.5 8.2L-18.5 8.8L-16.8 9.3L-15 9.4L-13.2 9.1L-11.5 8.6L-9.9 7.7L-8.6 6.5L-7.4 5.1L-6.6 3.5L-6.1 1.8L-5.9 0L-6.1 -1.8L-6.6 -3.5L-7.4 -5.1L-8.6 -6.5L-9.9 -7.7L-11.5 -8.6L-13.2 -9.1L-15 -9.4L-16.8 -9.3L-18.5 -8.8L-19.5 -8.2L-20.2 -7.5L-20.9 -6.7L-21.7 -6.2L-22.7 -5.9L-23.4 -6.1L-24.1 -6.8L-24.5 -7.7L-24.7 -8.9L-24.7 -24.7Z" fill="#44a7de"/>
<path transform="translate(598.5 841.5) rotate(0)" d="M-18.3 -18.3L-4.9 -18.3L-4.3 -18.4L-3.8 -18.6L-3.4 -19L-3.3 -19.4L-3.4 -20L-3.7 -20.4L-4.2 -20.8L-4.6 -21.2L-4.9 -21.7L-5.2 -22.7L-5.2 -23.7L-5.1 -24.7L-4.8 -25.6L-4.3 -26.5L-3.6 -27.3L-2.8 -27.9L-2 -28.3L-1 -28.6L0 -28.7L1 -28.6L2 -28.3L2.8 -27.9L3.6 -27.3L4.3 -26.5L4.8 -25.6L5.1 -24.7L5.2 -23.7L5.2 -22.7L4.9 -21.7L4.6 -21.2L4.2 -20.8L3.7 -20.4L3.4 -20L3.3 -19.4L3.4 -19L3.8 -18.6L4.3 -18.4L4.9 -18.3L18.3 -18.3L18.3 -4.9L18.4 -4.3L18.6 -3.8L19 -3.4L19.4 -3.3L20 -3.4L20.4 -3.7L20.8 -4.2L21.2 -4.6L21.7 -4.9L22.7 -5.2L23.7 -5.2L24.7 -5.1L25.6 -4.8L26.5 -4.3L27.3 -3.6L27.9 -2.8L28.3 -2L28.6 -1L28.7 0L28.6 1L28.3 2L27.9 2.8L27.3 3.6L26.5 4.3L25.6 4.8L24.7 5.1L23.7 5.2L22.7 5.2L21.7 4.9L21.2 4.6L20.8 4.2L20.4 3.7L20 3.4L19.4 3.3L19 3.4L18.6 3.8L18.4 4.3L18.3 4.9L18.3 18.3L4.9 18.3L4.3 18.4L3.8 18.6L3.4 19L3.3 19.4L3.4 20L3.7 20.4L4.2 20.8L4.6 21.2L4.9 21.7L5.2 22.7L5.2 23.7L5.1 24.7L4.8 25.6L4.3 26.5L3.6 27.3L2.8 27.9L2 28.3L1 28.6L0 28.7L-1 28.6L-2 28.3L-2.8 27.9L-3.6 27.3L-4.3 26.5L-4.8 25.6L-5.1 24.7L-5.2 23.7L-5.2 22.7L-4.9 21.7L-4.6 21.2L-4.2 20.8L-3.7 20.4L-3.4 20L-3.3 19.4L-3.4 19L-3.8 18.6L-4.3 18.4L-4.9 18.3L-18.3 18.3L-18.3 4.9L-18.4 4.3L-18.6 3.8L-19 3.4L-19.4 3.3L-20 3.4L-20.4 3.7L-20.8 4.2L-21.2 4.6L-21.7 4.9L-22.7 5.2L-23.7 5.2L-24.7 5.1L-25.6 4.8L-26.5 4.3L-27.3 3.6L-27.9 2.8L-28.3 2L-28.6 1L-28.7 0L-28.6 -1L-28.3 -2L-27.9 -2.8L-27.3 -3.6L-26.5 -4.3L-25.6 -4.8L-24.7 -5.1L-23.7 -5.2L-22.7 -5.2L-21.7 -4.9L-21.2 -4.6L-20.8 -4.2L-20.4 -3.7L-20 -3.4L-19.4 -3.3L-19 -3.4L-18.6 -3.8L-18.4 -4.3L-18.3 -4.9L-18.3 -18.3Z" fill="#f0ba48"/>
<path transform="translate(588.3 912.2) rotate(-12)" d="M-18 -18L-6.5 -18L-5.6 -17.9L-4.9 -17.5L-4.5 -17.1L-4.3 -16.5L-4.5 -15.8L-4.9 -15.2L-5.5 -14.7L-6 -14.2L-6.4 -13.5L-6.7 -12.2L-6.8 -10.9L-6.7 -9.6L-6.2 -8.4L-5.6 -7.2L-4.7 -6.2L-3.7 -5.4L-2.6 -4.8L-1.3 -4.4L0 -4.3L1.3 -4.4L2.6 -4.8L3.7 -5.4L4.7 -6.2L5.6 -7.2L6.2 -8.4L6.7 -9.6L6.8 -10.9L6.7 -12.2L6.4 -13.5L6 -14.2L5.5 -14.7L4.9 -15.2L4.5 -15.8L4.3 -16.5L4.5 -17.1L4.9 -17.5L5.6 -17.9L6.5 -18L18 -18L18 -6.5L18.1 -5.6L18.4 -4.9L18.9 -4.5L19.4 -4.3L20.2 -4.5L20.7 -4.9L21.2 -5.5L21.7 -6L22.5 -6.4L23.7 -6.7L25 -6.8L26.3 -6.7L27.6 -6.2L28.7 -5.6L29.7 -4.7L30.5 -3.7L31.1 -2.6L31.5 -1.3L31.6 0L31.5 1.3L31.1 2.6L30.5 3.7L29.7 4.7L28.7 5.6L27.6 6.2L26.3 6.7L25 6.8L23.7 6.7L22.5 6.4L21.7 6L21.2 5.5L20.7 4.9L20.2 4.5L19.4 4.3L18.9 4.5L18.4 4.9L18.1 5.6L18 6.5L18 18L6.5 18L5.6 18.1L4.9 18.4L4.5 18.9L4.3 19.4L4.5 20.2L4.9 20.7L5.5 21.2L6 21.7L6.4 22.5L6.7 23.7L6.8 25L6.7 26.3L6.2 27.6L5.6 28.7L4.7 29.7L3.7 30.5L2.6 31.1L1.3 31.5L0 31.6L-1.3 31.5L-2.6 31.1L-3.7 30.5L-4.7 29.7L-5.6 28.7L-6.2 27.6L-6.7 26.3L-6.8 25L-6.7 23.7L-6.4 22.5L-6 21.7L-5.5 21.2L-4.9 20.7L-4.5 20.2L-4.3 19.4L-4.5 18.9L-4.9 18.4L-5.6 18.1L-6.5 18L-18 18L-18 6.5L-18.1 5.6L-18.4 4.9L-18.9 4.5L-19.4 4.3L-20.2 4.5L-20.7 4.9L-21.2 5.5L-21.7 6L-22.5 6.4L-23.7 6.7L-25 6.8L-26.3 6.7L-27.6 6.2L-28.7 5.6L-29.7 4.7L-30.5 3.7L-31.1 2.6L-31.5 1.3L-31.6 0L-31.5 -1.3L-31.1 -2.6L-30.5 -3.7L-29.7 -4.7L-28.7 -5.6L-27.6 -6.2L-26.3 -6.7L-25 -6.8L-23.7 -6.7L-22.5 -6.4L-21.7 -6L-21.2 -5.5L-20.7 -4.9L-20.2 -4.5L-19.4 -4.3L-18.9 -4.5L-18.4 -4.9L-18.1 -5.6L-18 -6.5L-18 -18Z" fill="#f2b640"/>
<path d="M805 684 Q818 676 828 680 L838 694 Q834 704 826 706 L814 703 Q806 696 805 684Z" fill="#23445c"/>
<path d="M781 671 Q786 664 792 668 L798 680 Q792 686 786 684Z" fill="#2f5f80" opacity="0.8"/>
<rect x="1085" y="815" width="706" height="451" rx="58" fill="none" stroke="#151515" stroke-width="2.1"/>
<path d="M1325 815L1549 815L1550.5 828.2L1552 841.3L1553.3 854.5L1554.5 867.7L1555.5 880.8L1556.2 894L1556.2 896.3L1555.7 898.6L1554.9 900.7L1553.7 902.5L1552.2 904L1550.5 905.1L1548.7 905.8L1546.7 906L1544.5 905.8L1542.6 905.2L1541 904.2L1539.5 903L1538.2 901.6L1536.8 900.1L1535.5 898.6L1534 897.1L1532.4 895.7L1530.6 894.5L1528.5 893.5L1525.7 892.6L1522.9 892L1520 891.6L1517.1 891.5L1514.3 891.6L1511.4 892L1508.6 892.6L1505.9 893.5L1503.3 894.6L1500.8 895.9L1498.5 897.5L1496.3 899.2L1494.2 901.2L1492.4 903.3L1490.7 905.6L1489.2 908L1487.9 910.6L1486.9 913.2L1486.1 916L1485.5 918.8L1485.1 921.6L1485 924.5L1485.1 927.4L1485.5 930.2L1486.1 933L1486.9 935.8L1487.9 938.4L1489.2 941L1490.7 943.4L1492.4 945.7L1494.2 947.8L1496.3 949.8L1498.5 951.5L1500.8 953.1L1503.3 954.4L1505.9 955.5L1508.6 956.4L1511.4 957L1514.3 957.4L1517.1 957.5L1520 957.4L1522.9 957L1525.7 956.4L1528.5 955.5L1530.6 954.5L1532.4 953.3L1534 951.9L1535.5 950.4L1536.8 948.9L1538.2 947.4L1539.5 946L1541 944.8L1542.6 943.8L1544.5 943.2L1546.7 943L1548.7 943.2L1550.5 943.9L1552.2 945L1553.7 946.5L1554.9 948.3L1555.7 950.4L1556.2 952.7L1556.2 955L1555.5 968.2L1554.5 981.3L1553.3 994.5L1552 1007.7L1550.5 1020.8L1549 1034L1535.5 1033.4L1522 1032.9L1508.5 1032.4L1495 1031.9L1481.5 1031.6L1468 1031.3L1465.7 1031L1463.4 1030.4L1461.3 1029.5L1459.5 1028.2L1458 1026.7L1456.9 1024.9L1456.2 1023.1L1456 1021.1L1456.2 1019.2L1456.8 1017.6L1457.7 1016.3L1458.9 1015.1L1460.1 1014L1461.5 1012.9L1462.9 1011.7L1464.1 1010.5L1465.2 1009L1466.1 1007.2L1466.9 1004.4L1467.6 1001.6L1467.9 998.7L1468 995.7L1467.8 992.8L1467.4 989.9L1466.7 987.1L1465.7 984.3L1464.5 981.6L1463 979.1L1461.3 976.6L1459.5 974.4L1457.4 972.3L1455.1 970.4L1452.7 968.8L1450.1 967.3L1447.4 966.1L1444.7 965.2L1441.8 964.5L1438.9 964.1L1436 964L1433.1 964.1L1430.2 964.5L1427.3 965.2L1424.6 966.2L1421.9 967.4L1419.3 968.8L1416.9 970.5L1414.6 972.3L1412.5 974.4L1410.7 976.7L1409 979.1L1407.5 981.7L1406.3 984.3L1405.3 987.1L1404.6 990L1404.2 992.9L1404 995.8L1404.1 998.7L1404.4 1001.6L1405.1 1004.4L1405.9 1007.2L1406.8 1009L1407.9 1010.5L1409.1 1011.8L1410.5 1012.9L1411.9 1014L1413.1 1015.1L1414.3 1016.3L1415.2 1017.6L1415.8 1019.2L1416 1021.1L1415.8 1023.1L1415.1 1025L1414 1026.7L1412.5 1028.2L1410.7 1029.5L1408.6 1030.5L1406.3 1031.1L1404 1031.3L1390.8 1031.6L1377.7 1032L1364.5 1032.4L1351.3 1032.9L1338.2 1033.4L1325 1034L1323.4 1021.5L1321.8 1009L1320.4 996.5L1319.1 984L1318 971.5L1317.1 959L1316.7 956.7L1316.1 954.4L1315 952.3L1313.7 950.5L1312.1 949L1310.3 947.9L1308.4 947.2L1306.5 947L1303.6 947.2L1301.1 947.6L1298.8 948.2L1296.6 949.1L1294.6 950.1L1292.6 951.2L1290.5 952.3L1288.3 953.5L1286 954.7L1283.4 955.8L1280.6 956.6L1277.8 957.2L1274.9 957.5L1271.9 957.6L1269 957.3L1266.1 956.8L1263.2 956L1260.4 955L1257.7 953.6L1255.1 952.1L1252.7 950.3L1250.5 948.3L1248.5 946L1246.7 943.7L1245.1 941.1L1243.8 938.5L1242.8 935.7L1242 932.8L1241.6 929.9L1241.4 927L1241.5 924.1L1242 921.2L1242.7 918.3L1243.7 915.5L1245 912.9L1246.5 910.3L1248.3 908L1250.3 905.7L1252.5 903.7L1254.9 901.9L1257.5 900.4L1260.1 899L1262.9 898L1265.8 897.2L1268.7 896.7L1271.7 896.4L1274.6 896.5L1277.5 896.8L1280.3 897.4L1283.1 898.2L1285.7 899.3L1288.1 900.5L1290.3 901.7L1292.4 902.8L1294.4 903.9L1296.4 904.9L1298.6 905.8L1300.9 906.4L1303.4 906.8L1306.3 907L1308.2 906.8L1310.1 906.1L1311.9 905L1313.5 903.5L1314.8 901.7L1315.8 899.6L1316.5 897.3L1316.8 895L1317.6 881.7L1318.8 868.3L1320.1 855L1321.6 841.7L1323.3 828.3L1325 815Z" fill="#ed733c" stroke="#151515" stroke-width="2" stroke-linejoin="round"/>
<path d="M1085 1032L1097.3 1033.1L1109.6 1034.1L1121.8 1035.1L1134.1 1036L1146.4 1036.8L1158.7 1037.5L1171 1038.1L1173.4 1038.1L1175.7 1037.7L1178 1037.1L1180 1036.1L1181.7 1035L1183.1 1033.6L1184.2 1032L1184.8 1030.4L1185 1028.6L1184.8 1026.3L1184.2 1024.3L1183.2 1022.5L1182 1020.9L1180.6 1019.5L1179.1 1018L1177.5 1016.6L1176 1015L1174.5 1013.3L1173.3 1011.4L1172.3 1009.1L1171.4 1006.3L1170.8 1003.5L1170.4 1000.5L1170.3 997.6L1170.4 994.7L1170.7 991.8L1171.3 989L1172.1 986.2L1173.2 983.5L1174.5 980.9L1176 978.5L1177.7 976.1L1179.5 973.9L1181.6 971.9L1183.8 970.1L1186.2 968.5L1188.7 967L1191.4 965.8L1194.1 964.8L1196.9 964L1199.8 963.4L1202.7 963.1L1205.6 963L1208.5 963.1L1211.4 963.5L1214.2 964.1L1217 965L1219.7 966L1222.3 967.3L1224.8 968.8L1227.2 970.5L1229.4 972.3L1231.4 974.4L1233.3 976.6L1234.9 978.9L1236.4 981.4L1237.6 984L1238.6 986.8L1239.4 989.5L1239.9 992.4L1240.2 995.3L1240.3 998.2L1240.1 1001.1L1239.7 1004L1239 1006.9L1238.1 1009.7L1237.1 1011.9L1235.8 1013.8L1234.3 1015.5L1232.8 1017L1231.2 1018.5L1229.6 1019.9L1228.2 1021.3L1226.9 1022.9L1225.9 1024.6L1225.3 1026.6L1225 1029L1225.2 1030.7L1225.8 1032.4L1226.9 1033.9L1228.3 1035.3L1230 1036.6L1232 1037.5L1234.2 1038.2L1236.5 1038.6L1238.9 1038.7L1251.2 1038.3L1263.5 1037.8L1275.8 1037.2L1288.1 1036.5L1300.4 1035.7L1312.7 1034.9L1325 1034" fill="none" stroke="#151515" stroke-width="2"/>
<path d="M1549 1035L1562.3 1036.3L1575.7 1037.6L1589 1038.8L1602.4 1039.9L1615.7 1040.8L1629 1041.6L1631.8 1041.5L1634.4 1041L1636.8 1040.2L1638.9 1039.1L1640.7 1037.6L1641.9 1035.9L1642.7 1034.1L1643 1032.1L1642.8 1030.1L1642.3 1028.4L1641.5 1026.9L1640.5 1025.5L1639.3 1024.2L1638.1 1022.9L1636.8 1021.6L1635.5 1020.2L1634.3 1018.8L1633.3 1017.1L1632.4 1015.2L1631.5 1012.4L1630.9 1009.5L1630.5 1006.6L1630.4 1003.6L1630.5 1000.7L1630.9 997.8L1631.5 995L1632.3 992.3L1633.5 989.6L1634.8 987.1L1636.4 984.7L1638.1 982.4L1640.1 980.3L1642.2 978.4L1644.5 976.7L1647 975.2L1649.6 974L1652.3 972.9L1655.1 972.1L1657.9 971.5L1660.8 971.1L1663.7 971L1666.7 971.1L1669.6 971.5L1672.4 972.1L1675.2 973L1677.9 974.1L1680.5 975.4L1683 976.9L1685.3 978.6L1687.5 980.5L1689.4 982.6L1691.2 984.9L1692.8 987.3L1694.2 989.8L1695.3 992.5L1696.2 995.3L1696.8 998.1L1697.2 1001L1697.4 1003.9L1697.3 1006.8L1696.9 1009.7L1696.3 1012.6L1695.4 1015.4L1694.6 1017.3L1693.5 1019L1692.3 1020.5L1691.1 1021.8L1689.8 1023.1L1688.6 1024.4L1687.4 1025.6L1686.4 1027L1685.7 1028.6L1685.2 1030.3L1685 1032.3L1685.3 1034.2L1686.1 1036.1L1687.4 1037.8L1689.1 1039.2L1691.2 1040.4L1693.7 1041.3L1696.3 1041.7L1699 1041.8L1712.2 1041.2L1725.3 1040.3L1738.4 1039.3L1751.6 1038.1L1764.7 1036.8L1777.9 1035.4L1791 1034" fill="none" stroke="#151515" stroke-width="2"/>
<path d="M1466 1031L1464 1031.2L1462.2 1031.6L1460.4 1032.3L1458.9 1033.3L1457.7 1034.6L1456.8 1035.9L1456.2 1037.4L1456 1039L1456.2 1040.7L1456.8 1042.1L1457.8 1043.3L1458.9 1044.3L1460.2 1045.2L1461.6 1046.1L1462.9 1047L1464.2 1048.1L1465.3 1049.5L1466.1 1051.1L1466.9 1053.8L1467.6 1056.7L1467.9 1059.6L1468 1062.5L1467.8 1065.5L1467.4 1068.3L1466.7 1071.2L1465.7 1073.9L1464.5 1076.6L1463 1079.1L1461.3 1081.5L1459.5 1083.8L1457.4 1085.8L1455.1 1087.7L1452.7 1089.3L1450.1 1090.7L1447.4 1091.9L1444.7 1092.8L1441.8 1093.5L1438.9 1093.9L1436 1094L1433.1 1093.9L1430.2 1093.5L1427.3 1092.8L1424.6 1091.9L1421.9 1090.7L1419.3 1089.3L1416.9 1087.7L1414.6 1085.8L1412.5 1083.8L1410.7 1081.5L1409 1079.1L1407.5 1076.6L1406.3 1073.9L1405.3 1071.2L1404.6 1068.3L1404.2 1065.5L1404 1062.5L1404.1 1059.6L1404.4 1056.7L1405.1 1053.8L1405.9 1051.1L1406.7 1049.5L1407.8 1048.1L1409.1 1047L1410.4 1046.1L1411.8 1045.2L1413.1 1044.3L1414.2 1043.3L1415.2 1042.1L1415.8 1040.7L1416 1039L1415.8 1037.4L1415.2 1035.9L1414.3 1034.6L1413.1 1033.3L1411.6 1032.3L1409.8 1031.6L1408 1031.2L1406 1031" fill="none" stroke="#151515" stroke-width="2"/>
<path d="M1326 1034L1327.7 1046.2L1329.4 1058.4L1331 1070.7L1332.5 1082.9L1333.8 1095.1L1334.9 1107.3L1334.9 1109.6L1334.6 1111.8L1334 1113.8L1333.1 1115.7L1332 1117.3L1330.7 1118.6L1329.1 1119.6L1327.5 1120.2L1325.8 1120.4L1324.2 1120.2L1323 1119.5L1322.1 1118.4L1321.4 1117.1L1320.8 1115.6L1320.3 1114L1319.7 1112.4L1319 1110.8L1318.1 1109.4L1317 1108.3L1315.5 1107.5L1312.7 1106.7L1309.8 1106L1306.9 1105.7L1304 1105.5L1301.1 1105.7L1298.2 1106L1295.4 1106.6L1292.7 1107.5L1290.1 1108.6L1287.6 1109.9L1285.2 1111.4L1283 1113.1L1281 1115.1L1279.1 1117.2L1277.4 1119.4L1275.9 1121.8L1274.6 1124.4L1273.6 1127L1272.7 1129.7L1272.1 1132.6L1271.7 1135.4L1271.6 1138.3L1271.6 1141.2L1272 1144.1L1272.5 1146.9L1273.3 1149.7L1274.2 1152.5L1275.4 1155.1L1276.8 1157.6L1278.5 1160L1280.3 1162.3L1282.2 1164.3L1284.4 1166.2L1286.7 1167.9L1289.1 1169.4L1291.7 1170.7L1294.3 1171.7L1297.1 1172.5L1299.9 1173.1L1302.8 1173.5L1305.7 1173.5L1308.6 1173.4L1311.5 1173L1314.3 1172.3L1317.1 1171.4L1318.6 1170.6L1319.7 1169.5L1320.5 1168.1L1321.1 1166.5L1321.6 1164.9L1322.1 1163.3L1322.6 1161.8L1323.2 1160.4L1324.1 1159.4L1325.2 1158.7L1326.7 1158.4L1328.5 1158.6L1330.2 1159.2L1331.7 1160.1L1333.1 1161.4L1334.3 1163L1335.3 1164.8L1336 1166.9L1336.4 1169.1L1336.5 1171.3L1335.9 1184.9L1335 1198.4L1333.8 1211.9L1332.5 1225.4L1330.9 1238.9L1329.2 1252.5L1327.5 1266" fill="none" stroke="#151515" stroke-width="2"/>
<path d="M1546 1035L1544.9 1047.1L1543.8 1059.1L1542.8 1071.2L1541.9 1083.3L1541.1 1095.4L1540.4 1107.4L1540.5 1110L1540.9 1112.4L1541.8 1114.6L1542.9 1116.6L1544.4 1118.2L1546.1 1119.4L1547.9 1120.1L1549.9 1120.4L1551.8 1120.2L1553.4 1119.5L1554.8 1118.6L1556 1117.4L1557.1 1116.1L1558.1 1114.6L1559.2 1113.1L1560.4 1111.7L1561.7 1110.3L1563.3 1109.2L1565.1 1108.3L1567.9 1107.4L1570.7 1106.8L1573.6 1106.4L1576.5 1106.3L1579.3 1106.4L1582.2 1106.8L1585 1107.4L1587.7 1108.2L1590.3 1109.3L1592.8 1110.7L1595.1 1112.2L1597.3 1113.9L1599.4 1115.9L1601.2 1118L1602.9 1120.3L1604.4 1122.7L1605.6 1125.2L1606.7 1127.9L1607.5 1130.6L1608 1133.5L1608.4 1136.3L1608.4 1139.2L1608.3 1142.1L1607.9 1144.9L1607.3 1147.7L1606.4 1150.5L1605.3 1153.1L1604 1155.7L1602.5 1158.1L1600.8 1160.4L1598.9 1162.6L1596.8 1164.5L1594.5 1166.3L1592.2 1167.8L1589.6 1169.2L1587 1170.3L1584.3 1171.1L1581.5 1171.8L1578.7 1172.2L1575.8 1172.3L1572.9 1172.2L1570 1171.8L1567.2 1171.2L1564.4 1170.3L1562.6 1169.5L1561.1 1168.4L1559.8 1167L1558.7 1165.6L1557.6 1164.1L1556.6 1162.7L1555.5 1161.3L1554.3 1160.1L1553 1159.2L1551.4 1158.6L1549.5 1158.4L1547.5 1158.6L1545.7 1159.4L1543.9 1160.6L1542.5 1162.2L1541.3 1164.2L1540.4 1166.4L1539.9 1168.9L1539.8 1171.4L1540.3 1184.9L1541 1198.4L1541.9 1212L1543 1225.5L1544.2 1239L1545.5 1252.5L1546.8 1266" fill="none" stroke="#151515" stroke-width="2"/>
<path d="M1176 651L1219 651L1221.8 650.7L1224.3 649.7L1226.3 648.1L1227.6 646.2L1228 644L1227.7 642.6L1227 641.5L1226 640.7L1224.9 639.8L1223.9 638.8L1223.1 637.5L1222.4 634.7L1222 631.8L1222.1 628.9L1222.7 626L1223.6 623.3L1225 620.7L1226.8 618.4L1228.9 616.4L1231.3 614.7L1233.9 613.4L1236.7 612.5L1239.5 612.1L1242.5 612.1L1245.3 612.5L1248.1 613.4L1250.7 614.7L1253.1 616.4L1255.2 618.4L1257 620.7L1258.4 623.3L1259.3 626L1259.9 628.9L1260 631.8L1259.6 634.7L1258.9 637.5L1258.1 638.8L1257.1 639.8L1256 640.7L1255 641.5L1254.3 642.6L1254 644L1254.4 646.2L1255.7 648.1L1257.7 649.7L1260.2 650.7L1263 651L1327.7 651L1327.7 814.4L1283.5 814.4L1280.9 814.6L1278.5 815.2L1276.4 816.2L1274.8 817.4L1273.8 818.8L1273.5 820.4L1273.9 822.3L1274.8 823.8L1276.1 825L1277.6 826.2L1279.2 827.3L1280.5 828.7L1281.5 830.6L1282.3 833.4L1282.8 836.3L1282.9 839.2L1282.6 842.1L1281.9 845L1280.9 847.7L1279.6 850.3L1277.9 852.7L1275.9 854.9L1273.7 856.8L1271.2 858.4L1268.6 859.6L1265.8 860.6L1262.9 861.1L1260 861.3L1257.1 861.1L1254.2 860.6L1251.4 859.6L1248.8 858.4L1246.3 856.8L1244.1 854.9L1242.1 852.7L1240.4 850.3L1239.1 847.7L1238.1 845L1237.4 842.1L1237.1 839.2L1237.2 836.3L1237.7 833.4L1238.5 830.6L1239.5 828.7L1240.8 827.3L1242.4 826.2L1243.9 825L1245.2 823.8L1246.1 822.3L1246.5 820.4L1246.2 818.8L1245.2 817.4L1243.6 816.2L1241.5 815.2L1239.1 814.6L1236.5 814.4L1176 814.4L1176 753L1176.3 750.4L1177.1 748L1178.3 745.9L1180 744.3L1181.9 743.3L1184 743L1186.4 743.2L1188.4 743.6L1190.3 744.2L1192 745.1L1193.8 746L1195.6 747L1197.6 747.9L1199.8 748.9L1202.6 749.7L1205.4 750.2L1208.3 750.3L1211.1 750.1L1214 749.5L1216.7 748.7L1219.3 747.5L1221.8 746L1224 744.2L1226 742.1L1227.8 739.9L1229.3 737.4L1230.5 734.8L1231.3 732L1231.8 729.2L1232 726.3L1231.8 723.4L1231.3 720.6L1230.5 717.8L1229.3 715.2L1227.8 712.7L1226 710.5L1224 708.4L1221.8 706.6L1219.3 705.1L1216.7 703.9L1214 703.1L1211.1 702.5L1208.3 702.3L1205.4 702.4L1202.6 702.9L1199.8 703.7L1197.6 704.7L1195.6 705.6L1193.8 706.6L1192 707.5L1190.3 708.4L1188.4 709L1186.4 709.4L1184 709.6L1181.9 709.3L1180 708.3L1178.3 706.7L1177.1 704.6L1176.3 702.2L1176 699.6L1176 651Z" fill="#f2b640" stroke="#151515" stroke-width="2" stroke-linejoin="round"/>
<path d="M1327.7 649.8L1387.5 649.8L1390.1 650.1L1392.5 650.9L1394.6 652.1L1396.2 653.8L1397.2 655.7L1397.5 657.8L1397.2 659.9L1396.2 661.5L1394.9 662.8L1393.4 664L1391.9 665.3L1390.5 666.9L1389.5 668.8L1388.7 671.6L1388.2 674.4L1388.1 677.3L1388.4 680.2L1388.9 683L1389.9 685.8L1391.2 688.4L1392.8 690.8L1394.6 693L1396.8 695L1399.1 696.7L1401.7 698L1404.4 699.1L1407.2 699.8L1410.1 700.2L1412.9 700.2L1415.8 699.8L1418.6 699.1L1421.3 698L1423.9 696.7L1426.2 695L1428.4 693L1430.2 690.8L1431.8 688.4L1433.1 685.8L1434.1 683L1434.6 680.2L1434.9 677.3L1434.8 674.4L1434.3 671.6L1433.5 668.8L1432.5 666.9L1431.1 665.3L1429.6 664L1428.1 662.8L1426.8 661.5L1425.8 659.9L1425.5 657.8L1425.8 655.7L1426.8 653.8L1428.4 652.1L1430.5 650.9L1432.9 650.1L1435.5 649.8L1486 649.8L1486 704.6L1486.2 707.2L1486.8 709.6L1487.8 711.7L1489 713.3L1490.4 714.3L1492 714.6L1494.3 714.3L1496.2 713.6L1497.9 712.6L1499.5 711.4L1501.1 710.2L1503 709L1505.1 708L1508 707.2L1510.9 706.7L1513.8 706.6L1516.7 706.9L1519.6 707.6L1522.4 708.6L1525 710L1527.4 711.6L1529.5 713.6L1531.4 715.9L1533.1 718.3L1534.3 721L1535.3 723.8L1535.8 726.7L1536 729.6L1535.8 732.5L1535.3 735.4L1534.3 738.2L1533.1 740.9L1531.4 743.3L1529.5 745.6L1527.4 747.6L1525 749.2L1522.4 750.6L1519.6 751.6L1516.7 752.3L1513.8 752.6L1510.9 752.5L1508 752L1505.1 751.2L1503 750.2L1501.1 749L1499.5 747.8L1497.9 746.6L1496.2 745.6L1494.3 744.9L1492 744.6L1490.4 744.9L1489 745.9L1487.8 747.5L1486.8 749.6L1486.2 752L1486 754.6L1486 814.4L1448 814.4L1445.3 814.6L1442.8 815.2L1440.5 816.1L1438.6 817.4L1437.2 818.9L1436.3 820.6L1436 822.4L1436.2 824.8L1436.9 826.8L1437.8 828.6L1439 830.2L1440.3 831.8L1441.7 833.4L1443.1 835.1L1444.3 837L1445.3 839.2L1446.2 842L1446.7 844.9L1447 847.7L1446.9 850.6L1446.6 853.5L1446 856.4L1445 859.1L1443.8 861.8L1442.3 864.3L1440.6 866.6L1438.7 868.7L1436.5 870.7L1434.1 872.4L1431.6 873.8L1428.9 875L1426.2 875.9L1423.3 876.5L1420.5 876.8L1417.5 876.8L1414.7 876.5L1411.8 875.9L1409.1 875L1406.4 873.8L1403.9 872.4L1401.5 870.7L1399.3 868.7L1397.4 866.6L1395.7 864.3L1394.2 861.8L1393 859.1L1392 856.4L1391.4 853.5L1391.1 850.6L1391 847.7L1391.3 844.9L1391.8 842L1392.7 839.2L1393.7 837L1394.9 835.1L1396.3 833.4L1397.7 831.8L1399 830.2L1400.2 828.6L1401.1 826.8L1401.8 824.8L1402 822.4L1401.7 820.6L1400.8 818.9L1399.4 817.4L1397.5 816.1L1395.2 815.2L1392.7 814.6L1390 814.4L1327.7 814.4L1327.7 753.6L1327.5 751L1327 748.6L1326.2 746.5L1325.2 744.9L1324 743.9L1322.7 743.6L1320.4 743.8L1318.3 744.3L1316.5 745.1L1314.8 746.1L1313.1 747.2L1311.4 748.4L1309.5 749.4L1307.3 750.4L1304.5 751.2L1301.6 751.7L1298.7 751.9L1295.8 751.7L1292.9 751.2L1290.1 750.4L1287.5 749.2L1285 747.8L1282.6 746.1L1280.5 744.1L1278.6 741.8L1277 739.4L1275.7 736.8L1274.8 734.1L1274.1 731.2L1273.7 728.4L1273.7 725.4L1274.1 722.6L1274.8 719.7L1275.7 717L1277 714.4L1278.6 712L1280.5 709.7L1282.6 707.7L1285 706L1287.5 704.6L1290.1 703.4L1292.9 702.6L1295.8 702.1L1298.7 701.9L1301.6 702.1L1304.5 702.6L1307.3 703.4L1309.5 704.4L1311.4 705.4L1313.1 706.6L1314.8 707.7L1316.5 708.7L1318.3 709.5L1320.4 710L1322.7 710.2L1324 709.9L1325.2 708.9L1326.2 707.3L1327 705.2L1327.5 702.8L1327.7 700.2L1327.7 649.8Z" fill="url(#brown)" stroke="#151515" stroke-width="2" stroke-linejoin="round"/>
<g clip-path="url(#lensclip)"><path transform="translate(1237 611) rotate(-28)" d="M-33 -33L-11.9 -33L-10.4 -32.8L-9.1 -32.2L-8.2 -31.4L-7.9 -30.4L-8.2 -29L-9 -27.9L-10 -27L-11 -26.1L-11.8 -24.7L-12.4 -22.4L-12.5 -20L-12.2 -17.6L-11.5 -15.4L-10.3 -13.3L-8.7 -11.4L-6.8 -9.9L-4.7 -8.8L-2.4 -8.2L0 -7.9L2.4 -8.2L4.7 -8.8L6.8 -9.9L8.7 -11.4L10.3 -13.3L11.5 -15.4L12.2 -17.6L12.5 -20L12.4 -22.4L11.8 -24.7L11 -26.1L10 -27L9 -27.9L8.2 -29L7.9 -30.4L8.2 -31.4L9.1 -32.2L10.4 -32.8L11.9 -33L33 -33L33 -11.9L33.2 -10.4L33.8 -9.1L34.6 -8.2L35.6 -7.9L37 -8.2L38.1 -9L39 -10L39.9 -11L41.3 -11.8L43.6 -12.4L46 -12.5L48.4 -12.2L50.6 -11.5L52.7 -10.3L54.6 -8.7L56.1 -6.8L57.2 -4.7L57.8 -2.4L58.1 0L57.8 2.4L57.2 4.7L56.1 6.8L54.6 8.7L52.7 10.3L50.6 11.5L48.4 12.2L46 12.5L43.6 12.4L41.3 11.8L39.9 11L39 10L38.1 9L37 8.2L35.6 7.9L34.6 8.2L33.8 9.1L33.2 10.4L33 11.9L33 33L11.9 33L10.4 32.8L9.1 32.2L8.2 31.4L7.9 30.4L8.2 29L9 27.9L10 27L11 26.1L11.8 24.7L12.4 22.4L12.5 20L12.2 17.6L11.5 15.4L10.3 13.3L8.7 11.4L6.8 9.9L4.7 8.8L2.4 8.2L0 7.9L-2.4 8.2L-4.7 8.8L-6.8 9.9L-8.7 11.4L-10.3 13.3L-11.5 15.4L-12.2 17.6L-12.5 20L-12.4 22.4L-11.8 24.7L-11 26.1L-10 27L-9 27.9L-8.2 29L-7.9 30.4L-8.2 31.4L-9.1 32.2L-10.4 32.8L-11.9 33L-33 33L-33 11.9L-33.2 10.4L-33.8 9.1L-34.6 8.2L-35.6 7.9L-37 8.2L-38.1 9L-39 10L-39.9 11L-41.3 11.8L-43.6 12.4L-46 12.5L-48.4 12.2L-50.6 11.5L-52.7 10.3L-54.6 8.7L-56.1 6.8L-57.2 4.7L-57.8 2.4L-58.1 0L-57.8 -2.4L-57.2 -4.7L-56.1 -6.8L-54.6 -8.7L-52.7 -10.3L-50.6 -11.5L-48.4 -12.2L-46 -12.5L-43.6 -12.4L-41.3 -11.8L-39.9 -11L-39 -10L-38.1 -9L-37 -8.2L-35.6 -7.9L-34.6 -8.2L-33.8 -9.1L-33.2 -10.4L-33 -11.9L-33 -33Z" fill="#e6824e"/><path d="M1219 651L1221.8 650.7L1224.3 649.7L1226.3 648.1L1227.6 646.2L1228 644L1227.7 642.6L1227 641.5L1226 640.7L1224.9 639.8L1223.9 638.8L1223.1 637.5L1222.4 634.7L1222 631.8L1222.1 628.9L1222.7 626L1223.6 623.3L1225 620.7L1226.8 618.4L1228.9 616.4L1231.3 614.7L1233.9 613.4L1236.7 612.5L1239.5 612.1L1242.5 612.1L1245.3 612.5L1248.1 613.4L1250.7 614.7L1253.1 616.4L1255.2 618.4L1257 620.7L1258.4 623.3L1259.3 626L1259.9 628.9L1260 631.8L1259.6 634.7L1258.9 637.5L1258.1 638.8L1257.1 639.8L1256 640.7L1255 641.5L1254.3 642.6L1254 644L1254.4 646.2L1255.7 648.1L1257.7 649.7L1260.2 650.7L1263 651Z" fill="#d7a35c"/></g>
<circle cx="1237" cy="608" r="75.5" fill="url(#lens)" style="mix-blend-mode:multiply"/>
<circle cx="1237" cy="608" r="75.5" fill="url(#lenshl)"/>
<line x1="1294" y1="660" x2="1318" y2="683" stroke="url(#metal)" stroke-width="11"/>
<line x1="1318" y1="685" x2="1413" y2="764" stroke="#161616" stroke-width="16" stroke-linecap="round"/>
<line x1="1324" y1="684" x2="1409" y2="755" stroke="#6a6a6a" stroke-width="2.5" opacity="0.6"/>
<circle cx="1237" cy="608" r="75.5" fill="none" stroke="#161616" stroke-width="10.5"/>
<circle cx="1237" cy="608" r="78" fill="none" stroke="#555" stroke-width="1.2" opacity="0.5"/>
<path transform="translate(1275 456) rotate(-4.4)" d="M-47 -51.5L-17 -51.5L-14.3 -52L-12.1 -53.3L-10.5 -55.2L-10 -57.5L-10.4 -59.5L-11.4 -61L-12.7 -62.4L-14 -63.8L-15 -65.7L-15.7 -68.5L-16 -71.5L-15.7 -74.5L-15 -77.3L-13.7 -80L-12 -82.4L-9.9 -84.5L-7.5 -86.2L-4.8 -87.5L-2 -88.2L1 -88.5L4 -88.2L6.8 -87.5L9.5 -86.2L11.9 -84.5L14 -82.4L15.7 -80L17 -77.3L17.7 -74.5L18 -71.5L17.7 -68.5L17 -65.7L16 -63.8L14.7 -62.4L13.4 -61L12.4 -59.5L12 -57.5L12.5 -55.2L14.1 -53.3L16.3 -52L19 -51.5L47 -51.5L47 -23L47.5 -20.3L48.8 -18.1L50.7 -16.5L53 -16L55.2 -16.4L56.9 -17.5L58.3 -18.9L60 -20.3L62 -21.4L64.8 -22.2L67.7 -22.5L70.6 -22.3L73.5 -21.6L76.2 -20.5L78.6 -18.9L80.8 -16.9L82.6 -14.7L84 -12.1L85 -9.3L85.4 -6.5L85.4 -3.5L85 -0.7L84 2.1L82.6 4.7L80.8 6.9L78.6 8.9L76.2 10.5L73.5 11.6L70.6 12.3L67.7 12.5L64.8 12.2L62 11.4L60 10.3L58.3 8.9L56.9 7.5L55.2 6.4L53 6L50.7 6.5L48.8 8.1L47.5 10.3L47 13L47 51.5L13 51.5L10.3 51L8.1 49.7L6.5 47.8L6 45.5L6.5 43.5L7.7 42L9.3 40.7L10.8 39.2L12 37.3L12.7 34.5L13 31.5L12.7 28.5L12 25.7L10.7 23L9 20.6L6.9 18.5L4.5 16.8L1.8 15.5L-1 14.8L-4 14.5L-7 14.8L-9.8 15.5L-12.5 16.8L-14.9 18.5L-17 20.6L-18.7 23L-20 25.7L-20.7 28.5L-21 31.5L-20.7 34.5L-20 37.3L-18.8 39.2L-17.3 40.7L-15.7 42L-14.5 43.5L-14 45.5L-14.5 47.8L-16.1 49.7L-18.3 51L-21 51.5L-47 51.5L-47 18L-47.5 15.3L-48.8 13.1L-50.7 11.5L-53 11L-55.1 11.3L-56.8 12.2L-58.3 13.3L-59.9 14.5L-61.9 15.5L-64.6 16.2L-67.5 16.5L-70.4 16.2L-73.1 15.5L-75.8 14.3L-78.1 12.6L-80.1 10.6L-81.8 8.2L-83 5.6L-83.7 2.9L-84 0L-83.7 -2.9L-83 -5.6L-81.8 -8.2L-80.1 -10.6L-78.1 -12.6L-75.8 -14.3L-73.1 -15.5L-70.4 -16.2L-67.5 -16.5L-64.6 -16.2L-61.9 -15.5L-59.9 -14.5L-58.3 -13.3L-56.8 -12.2L-55.1 -11.3L-53 -11L-50.7 -11.5L-48.8 -13.1L-47.5 -15.3L-47 -18L-47 -51.5Z" fill="#45a5d9"/>
<path transform="translate(1442 462) rotate(-31.5)" d="M-58 -58L-23.3 -58L-20.2 -58.5L-17.6 -59.8L-15.9 -61.7L-15.3 -64L-15.6 -66L-16.4 -67.5L-17.5 -68.9L-18.8 -70.2L-19.9 -71.8L-20.9 -73.6L-21.7 -76.5L-22 -79.5L-21.8 -82.4L-21.2 -85.4L-20.1 -88.1L-18.6 -90.7L-16.7 -93L-14.5 -95L-11.9 -96.6L-9.2 -97.8L-6.3 -98.5L-3.3 -98.7L-0.3 -98.5L2.6 -97.8L5.3 -96.6L7.9 -95L10.1 -93L12 -90.7L13.5 -88.1L14.6 -85.4L15.2 -82.4L15.4 -79.5L15.1 -76.5L14.3 -73.6L13.3 -71.8L12.2 -70.2L10.9 -68.9L9.8 -67.5L9 -66L8.7 -64L9.3 -61.7L11 -59.8L13.6 -58.5L16.7 -58L58 -58L58 -15L57.5 -11.9L56.2 -9.3L54.3 -7.6L52 -7L49.9 -7.3L48.1 -7.9L46.5 -8.8L44.9 -9.9L43.2 -11L41.2 -11.9L38.4 -12.7L35.5 -13L32.7 -12.8L29.8 -12.2L27.2 -11.2L24.7 -9.7L22.5 -7.9L20.6 -5.7L19 -3.3L17.9 -0.7L17.2 2.1L17 5L17.2 7.9L17.9 10.7L19 13.3L20.6 15.7L22.5 17.9L24.7 19.7L27.2 21.2L29.8 22.2L32.7 22.8L35.5 23L38.4 22.7L41.2 21.9L43.2 21L44.9 19.9L46.5 18.8L48.1 17.9L49.9 17.3L52 17L54.3 17.6L56.2 19.3L57.5 21.9L58 25L58 58L14.3 58L11.8 58.3L9.6 59.1L7.8 60.5L6.7 62.1L6.3 64L6.6 66L7.5 67.5L8.7 68.9L10 70.2L11.2 71.7L12.2 73.5L12.9 76.3L13.3 79.2L13.2 82.1L12.6 85L11.7 87.7L10.3 90.3L8.5 92.6L6.4 94.6L4 96.3L1.4 97.6L-1.4 98.5L-4.2 98.9L-7.2 98.9L-10 98.5L-12.8 97.6L-15.4 96.3L-17.8 94.6L-19.9 92.6L-21.7 90.3L-23.1 87.7L-24 85L-24.6 82.1L-24.7 79.2L-24.3 76.3L-23.6 73.5L-22.6 71.7L-21.4 70.2L-20.1 68.9L-18.9 67.5L-18 66L-17.7 64L-18.1 62.1L-19.2 60.5L-21 59.1L-23.2 58.3L-25.7 58L-58 58L-58 -58Z" fill="#ed733c"/>
<path d="M1726 472 L1812 475 Q1832 478 1842 494 L1888 558 Q1903 576 1920 588 L1920 695 Q1892 668 1862 641 Q1830 622 1796 613 L1760 597 L1726 585Z" fill="#ecba98"/>
<path d="M1726 522 Q1760 530 1776 512 Q1789 528 1791 548 L1728 552Z" fill="#d9a07f"/>
<path d="M1776 505 Q1792 525 1788 552" fill="none" stroke="#c98f70" stroke-width="2"/>
<path transform="translate(1650 507) rotate(-1)" d="M-75 -72.5L-28 -72.5L-25.7 -72.8L-23.5 -73.6L-21.6 -74.8L-20.2 -76.5L-19.3 -78.4L-19 -80.5L-19.3 -82.3L-20.1 -83.8L-21.2 -85L-22.5 -86.1L-24 -87.2L-25.4 -88.3L-26.6 -89.7L-27.5 -91.4L-28.3 -94.2L-28.8 -97.1L-29 -100L-28.8 -102.9L-28.3 -105.8L-27.5 -108.6L-26.3 -111.2L-24.9 -113.7L-23.2 -116.1L-21.2 -118.2L-18.9 -120.1L-16.5 -121.7L-13.9 -123L-11.2 -123.9L-8.3 -124.6L-5.5 -125L-2.5 -125L0.3 -124.6L3.2 -123.9L5.9 -123L8.5 -121.7L10.9 -120.1L13.2 -118.2L15.2 -116.1L16.9 -113.7L18.3 -111.2L19.5 -108.6L20.3 -105.8L20.8 -102.9L21 -100L20.8 -97.1L20.3 -94.2L19.5 -91.4L18.6 -89.7L17.4 -88.3L16 -87.2L14.5 -86.1L13.2 -85L12.1 -83.8L11.3 -82.3L11 -80.5L11.3 -78.4L12.2 -76.5L13.6 -74.8L15.5 -73.6L17.7 -72.8L20 -72.5L75 -72.5L75 -24L75.3 -21.7L76.1 -19.5L77.3 -17.6L79 -16.2L80.9 -15.3L83 -15L84.7 -15.3L85.9 -16.1L87 -17.2L87.8 -18.6L88.7 -20L89.7 -21.4L90.9 -22.6L92.4 -23.5L95.2 -24.3L98.1 -24.8L101 -25L103.9 -24.8L106.8 -24.3L109.6 -23.5L112.2 -22.3L114.7 -20.9L117.1 -19.2L119.2 -17.2L121.1 -14.9L122.7 -12.5L124 -9.9L124.9 -7.2L125.6 -4.3L126 -1.5L126 1.5L125.6 4.3L124.9 7.2L124 9.9L122.7 12.5L121.1 14.9L119.2 17.2L117.1 19.2L114.7 20.9L112.2 22.3L109.6 23.5L106.8 24.3L103.9 24.8L101 25L98.1 24.8L95.2 24.3L92.4 23.5L90.9 22.6L89.7 21.4L88.7 20L87.8 18.6L87 17.2L85.9 16.1L84.7 15.3L83 15L80.9 15.3L79 16.2L77.3 17.6L76.1 19.5L75.3 21.7L75 24L75 72.5L26 72.5L23.7 72.8L21.5 73.6L19.6 74.8L18.2 76.5L17.3 78.4L17 80.5L17.3 82.2L18.1 83.6L19.2 84.7L20.6 85.6L22 86.5L23.4 87.6L24.6 88.8L25.5 90.4L26.3 93.2L26.8 96.1L27 99L26.8 101.9L26.3 104.8L25.5 107.6L24.3 110.2L22.9 112.7L21.2 115.1L19.2 117.2L16.9 119.1L14.5 120.7L11.9 122L9.2 122.9L6.3 123.6L3.5 124L0.5 124L-2.3 123.6L-5.2 122.9L-7.9 122L-10.5 120.7L-12.9 119.1L-15.2 117.2L-17.2 115.1L-18.9 112.7L-20.3 110.2L-21.5 107.6L-22.3 104.8L-22.8 101.9L-23 99L-22.8 96.1L-22.3 93.2L-21.5 90.4L-20.6 88.8L-19.4 87.6L-18 86.5L-16.6 85.6L-15.2 84.7L-14.1 83.6L-13.3 82.2L-13 80.5L-13.3 78.4L-14.2 76.5L-15.6 74.8L-17.5 73.6L-19.7 72.8L-22 72.5L-75 72.5L-75 19L-74.7 16.7L-73.9 14.5L-72.7 12.6L-71 11.2L-69.1 10.3L-67 10L-65.1 10.3L-63.6 11.1L-62.3 12.2L-61.1 13.5L-60 14.9L-58.8 16.3L-57.3 17.6L-55.6 18.5L-52.8 19.3L-49.9 19.8L-47 20L-44.1 19.8L-41.2 19.3L-38.4 18.5L-35.8 17.3L-33.3 15.9L-30.9 14.2L-28.8 12.2L-26.9 9.9L-25.3 7.5L-24 4.9L-23.1 2.2L-22.4 -0.7L-22 -3.5L-22 -6.5L-22.4 -9.3L-23.1 -12.2L-24 -14.9L-25.3 -17.5L-26.9 -19.9L-28.8 -22.2L-30.9 -24.2L-33.3 -25.9L-35.8 -27.3L-38.4 -28.5L-41.2 -29.3L-44.1 -29.8L-47 -30L-49.9 -29.8L-52.8 -29.3L-55.6 -28.5L-57.3 -27.6L-58.8 -26.3L-60 -24.9L-61.1 -23.5L-62.3 -22.2L-63.6 -21.1L-65.1 -20.3L-67 -20L-69.1 -20.3L-71 -21.2L-72.7 -22.6L-73.9 -24.5L-74.7 -26.7L-75 -29L-75 -72.5Z" fill="#45a5d9"/>
<ellipse cx="1732" cy="592" rx="11" ry="10" fill="#dca283"/>
<ellipse cx="1763" cy="604" rx="21" ry="14" fill="#dca283"/>
<path d="M1690 546 Q1740 547 1790 551 Q1815 556 1840 590 L1850 626 Q1810 606 1782 596 L1692 574 Q1676 570 1677 559 Q1678 547 1690 546Z" fill="#ecbb9a"/>
<path d="M1772 550 L1690 546 Q1678 547 1677 559 Q1676 570 1692 574 L1782 596" fill="none" stroke="#d9a585" stroke-width="1.2"/>
<path d="M1684 549 Q1705 547 1708 552 Q1710 562 1707 572 Q1695 573 1684 568 Q1678 560 1684 549Z" fill="#f4d2bb"/>
<g stroke="#333" stroke-width="2.6" stroke-dasharray="9 8" fill="none"><line x1="848" y1="675" x2="1146" y2="625"/><line x1="860" y1="746" x2="1157" y2="679"/><line x1="1264" y1="505" x2="1263" y2="588"/><line x1="1424.5" y1="499" x2="1424" y2="630"/></g>
<path d="M1160.4 622.9L1144.9 633.1L1142.4 618.4Z" fill="#111"/>
<path d="M821 665L841.1 657.5L838.6 677.4Z" fill="#111"/>
<path d="M809 758L825.6 749.7L826.4 764.6Z" fill="#111"/>
<path d="M1264.8 489.4L1271.8 504.4L1257.8 504.4Z" fill="#111"/>
<path d="M1262 604.7L1254.5 585.7L1269.5 585.7Z" fill="#111"/>
<path d="M1424.7 481.9L1433.2 498.9L1416.2 498.9Z" fill="#111"/>
<path d="M1423.6 647.7L1415.8 630.7L1431.4 630.7Z" fill="#111"/>

<line x1="960" y1="1501" x2="1440" y2="1501" stroke="#dcdcdd" stroke-width="15" stroke-linecap="round"/>
<line x1="487.6" y1="1500.5" x2="960" y2="1500.5" stroke="#47a4da" stroke-width="15"/>
<g stroke="#8f9498" stroke-width="1.3">
<line x1="487.6" y1="1513" x2="487.6" y2="1530"/><line x1="960" y1="1515" x2="960" y2="1530"/><line x1="1440" y1="1514" x2="1440" y2="1530"/>
</g>
<circle cx="487.6" cy="1500" r="14.6" fill="#2f80b5"/>
<circle cx="960" cy="1499" r="17.4" fill="#45a1de"/>
<circle cx="1440" cy="1500.5" r="15" fill="#d4d5d7"/>

<g font-family="Liberation Sans, sans-serif" font-weight="bold" fill="#0b0b0b" stroke="#0b0b0b" stroke-width="0.7"><text transform="scale(0.88 1)" x="244.5" y="379.5" font-size="47.7" textLength="393.0" lengthAdjust="spacing">Current Business</text><text transform="scale(0.88 1)" x="244.8" y="432.5" font-size="47.7" textLength="233.0" lengthAdjust="spacing">Processes</text><text transform="scale(0.88 1)" x="1345.2" y="353.8" font-size="36.3" textLength="245.7" lengthAdjust="spacing">ERP Modules</text><text transform="scale(0.88 1)" x="1780.9" y="353.8" font-size="36.3" textLength="247.3" lengthAdjust="spacing">ERP Modules</text><text transform="scale(0.88 1)" x="882.7" y="603" font-size="42.2" textLength="103.6" lengthAdjust="spacing">Gaps</text><text transform="scale(0.88 1)" x="1776.1" y="748" font-size="45.6" textLength="58.9" lengthAdjust="spacing">Fit</text><text transform="scale(0.88 1)" x="873.2" y="1380.6" font-size="51.9" textLength="482.7" lengthAdjust="spacing">Target ERP System</text></g><g font-family="Liberation Sans, sans-serif" fill="#0b0b0b"><text x="423.1" y="1595.5" font-size="43.6" textLength="150.2" lengthAdjust="spacingAndGlyphs">Analysis</text><text x="740.7" y="1595.5" font-size="43.6" textLength="411.8" lengthAdjust="spacingAndGlyphs">Solution Identification</text><text x="1258" y="1595.5" font-size="43.6" textLength="299.5" lengthAdjust="spacingAndGlyphs">Implementation</text></g>
</svg>
</body></html>
